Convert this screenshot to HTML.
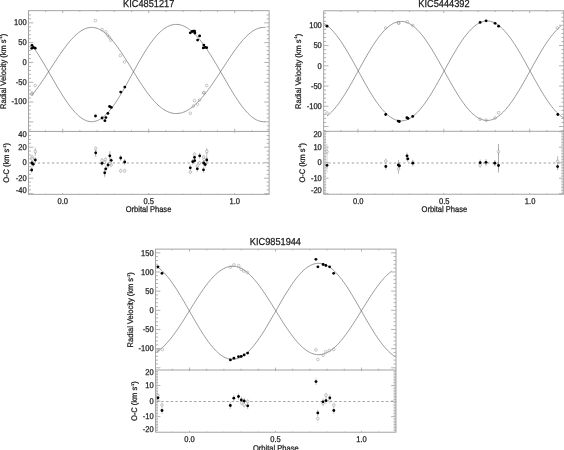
<!DOCTYPE html>
<html><head><meta charset="utf-8"><title>Radial velocity curves</title>
<style>
html,body{margin:0;padding:0;background:#fff;}
body{width:564px;height:450px;overflow:hidden;}
svg{display:block;}
text{font-family:"Liberation Sans",Arial,Helvetica,sans-serif;fill:#1a1a1a;stroke:#1a1a1a;stroke-width:0.25px;text-rendering:geometricPrecision;}
</style></head><body>
<svg width="564" height="450" viewBox="0 0 564 450">
<rect width="564" height="450" fill="#fff"/>
<polyline fill="none" stroke="#555" stroke-width="0.6" points="31.74,95.46 32.91,94.02 34.08,92.53 35.25,91.01 36.42,89.45 37.59,87.85 38.76,86.23 39.93,84.57 41.10,82.89 42.27,81.18 43.44,79.46 44.61,77.71 45.78,75.95 46.94,74.17 48.11,72.38 49.28,70.59 50.45,68.79 51.62,66.99 52.79,65.20 53.96,63.41 55.13,61.62 56.30,59.85 57.47,58.09 58.64,56.35 59.81,54.64 60.98,52.94 62.15,51.28 63.32,49.65 64.49,48.05 65.66,46.49 66.83,44.96 68.00,43.49 69.17,42.06 70.34,40.68 71.51,39.36 72.68,38.09 73.85,36.88 75.02,35.73 76.18,34.65 77.35,33.63 78.52,32.69 79.69,31.81 80.86,31.01 82.03,30.29 83.20,29.64 84.37,29.08 85.54,28.59 86.71,28.19 87.88,27.87 89.05,27.63 90.22,27.48 91.39,27.42 92.56,27.44 93.73,27.54 94.90,27.74 96.07,28.02 97.24,28.39 98.41,28.84 99.58,29.37 100.75,29.99 101.92,30.69 103.09,31.47 104.26,32.34 105.42,33.27 106.59,34.29 107.76,35.37 108.93,36.53 110.10,37.76 111.27,39.05 112.44,40.41 113.61,41.82 114.78,43.29 115.95,44.82 117.12,46.39 118.29,48.02 119.46,49.68 120.63,51.39 121.80,53.13 122.97,54.91 124.14,56.71 125.31,58.54 126.48,60.39 127.65,62.25 128.82,64.13 129.99,66.02 131.16,67.92 132.33,69.81 133.50,71.71 134.66,73.60 135.83,75.48 137.00,77.34 138.17,79.19 139.34,81.02 140.51,82.82 141.68,84.60 142.85,86.35 144.02,88.06 145.19,89.74 146.36,91.37 147.53,92.97 148.70,94.52 149.87,96.02 151.04,97.48 152.21,98.88 153.38,100.22 154.55,101.51 155.72,102.74 156.89,103.91 158.06,105.02 159.23,106.07 160.40,107.05 161.57,107.97 162.74,108.82 163.90,109.60 165.07,110.31 166.24,110.95 167.41,111.52 168.58,112.03 169.75,112.46 170.92,112.82 172.09,113.10 173.26,113.32 174.43,113.46 175.60,113.53 176.77,113.53 177.94,113.46 179.11,113.32 180.28,113.11 181.45,112.83 182.62,112.48 183.79,112.06 184.96,111.57 186.13,111.02 187.30,110.40 188.47,109.72 189.64,108.97 190.81,108.16 191.98,107.29 193.14,106.36 194.31,105.37 195.48,104.33 196.65,103.23 197.82,102.07 198.99,100.86 200.16,99.61 201.33,98.30 202.50,96.95 203.67,95.55 204.84,94.10 206.01,92.62 207.18,91.10 208.35,89.54 209.52,87.95 210.69,86.32 211.86,84.67 213.03,82.99 214.20,81.28 215.37,79.56 216.54,77.81 217.71,76.05 218.88,74.28 220.05,72.49 221.22,70.70 222.38,68.90 223.55,67.10 224.72,65.30 225.89,63.51 227.06,61.73 228.23,59.95 229.40,58.20 230.57,56.46 231.74,54.74 232.91,53.04 234.08,51.38 235.25,49.74 236.42,48.14 237.59,46.58 238.76,45.05 239.93,43.57 241.10,42.14 242.27,40.76 243.44,39.43 244.61,38.16 245.78,36.95 246.95,35.80 248.12,34.71 249.29,33.69 250.46,32.74 251.62,31.86 252.79,31.06 253.96,30.33 255.13,29.68 256.30,29.11 257.47,28.62 258.64,28.21 259.81,27.88 260.98,27.64 262.15,27.49 263.32,27.42 264.49,27.43 265.66,27.54"/>
<polyline fill="none" stroke="#555" stroke-width="0.6" points="31.74,44.83 32.91,46.46 34.08,48.14 35.25,49.86 36.42,51.62 37.59,53.42 38.76,55.26 39.93,57.13 41.10,59.03 42.27,60.96 43.44,62.91 44.61,64.88 45.78,66.88 46.94,68.88 48.11,70.90 49.28,72.93 50.45,74.96 51.62,76.99 52.79,79.02 53.96,81.04 55.13,83.06 56.30,85.06 57.47,87.05 58.64,89.01 59.81,90.95 60.98,92.86 62.15,94.75 63.32,96.59 64.49,98.40 65.66,100.16 66.83,101.88 68.00,103.55 69.17,105.16 70.34,106.72 71.51,108.21 72.68,109.65 73.85,111.01 75.02,112.31 76.18,113.53 77.35,114.68 78.52,115.75 79.69,116.74 80.86,117.64 82.03,118.46 83.20,119.19 84.37,119.83 85.54,120.38 86.71,120.83 87.88,121.20 89.05,121.46 90.22,121.63 91.39,121.71 92.56,121.68 93.73,121.56 94.90,121.34 96.07,121.02 97.24,120.61 98.41,120.10 99.58,119.49 100.75,118.80 101.92,118.00 103.09,117.12 104.26,116.15 105.42,115.09 106.59,113.94 107.76,112.71 108.93,111.40 110.10,110.02 111.27,108.56 112.44,107.03 113.61,105.43 114.78,103.77 115.95,102.04 117.12,100.26 118.29,98.43 119.46,96.55 120.63,94.62 121.80,92.65 122.97,90.65 124.14,88.61 125.31,86.54 126.48,84.45 127.65,82.35 128.82,80.22 129.99,78.09 131.16,75.95 132.33,73.80 133.50,71.66 134.66,69.53 135.83,67.41 137.00,65.30 138.17,63.21 139.34,61.15 140.51,59.11 141.68,57.10 142.85,55.13 144.02,53.19 145.19,51.30 146.36,49.45 147.53,47.64 148.70,45.89 149.87,44.19 151.04,42.55 152.21,40.97 153.38,39.45 154.55,37.99 155.72,36.60 156.89,35.28 158.06,34.02 159.23,32.84 160.40,31.73 161.57,30.70 162.74,29.74 163.90,28.86 165.07,28.05 166.24,27.33 167.41,26.68 168.58,26.11 169.75,25.63 170.92,25.22 172.09,24.90 173.26,24.65 174.43,24.49 175.60,24.41 176.77,24.41 177.94,24.49 179.11,24.65 180.28,24.89 181.45,25.21 182.62,25.60 183.79,26.07 184.96,26.62 186.13,27.25 187.30,27.95 188.47,28.72 189.64,29.56 190.81,30.48 191.98,31.46 193.14,32.51 194.31,33.63 195.48,34.81 196.65,36.05 197.82,37.36 198.99,38.72 200.16,40.14 201.33,41.62 202.50,43.15 203.67,44.73 204.84,46.36 206.01,48.04 207.18,49.76 208.35,51.52 209.52,53.32 210.69,55.15 211.86,57.02 213.03,58.92 214.20,60.84 215.37,62.80 216.54,64.77 217.71,66.76 218.88,68.76 220.05,70.78 221.22,72.81 222.38,74.84 223.55,76.87 224.72,78.90 225.89,80.93 227.06,82.94 228.23,84.94 229.40,86.93 230.57,88.90 231.74,90.84 232.91,92.75 234.08,94.64 235.25,96.48 236.42,98.29 237.59,100.06 238.76,101.78 239.93,103.45 241.10,105.07 242.27,106.63 243.44,108.13 244.61,109.56 245.78,110.93 246.95,112.23 248.12,113.46 249.29,114.61 250.46,115.69 251.62,116.68 252.79,117.59 253.96,118.41 255.13,119.15 256.30,119.79 257.47,120.35 258.64,120.81 259.81,121.18 260.98,121.45 262.15,121.63 263.32,121.70 264.49,121.69 265.66,121.57"/>
<rect x="28.50" y="10.70" width="240.60" height="183.60" fill="none" stroke="#949494" stroke-width="0.85"/>
<line x1="28.50" y1="131.45" x2="269.10" y2="131.45" stroke="#949494" stroke-width="0.85" />
<line x1="45.50" y1="10.70" x2="45.50" y2="11.91" stroke="#a4a4a4" stroke-width="0.85" />
<line x1="45.50" y1="131.45" x2="45.50" y2="130.24" stroke="#a4a4a4" stroke-width="0.85" />
<line x1="45.50" y1="131.45" x2="45.50" y2="132.08" stroke="#a4a4a4" stroke-width="0.85" />
<line x1="45.50" y1="194.30" x2="45.50" y2="193.67" stroke="#a4a4a4" stroke-width="0.85" />
<line x1="62.70" y1="10.70" x2="62.70" y2="13.11" stroke="#a4a4a4" stroke-width="0.85" />
<line x1="62.70" y1="131.45" x2="62.70" y2="129.03" stroke="#a4a4a4" stroke-width="0.85" />
<line x1="62.70" y1="131.45" x2="62.70" y2="132.71" stroke="#a4a4a4" stroke-width="0.85" />
<line x1="62.70" y1="194.30" x2="62.70" y2="193.04" stroke="#a4a4a4" stroke-width="0.85" />
<line x1="79.90" y1="10.70" x2="79.90" y2="11.91" stroke="#a4a4a4" stroke-width="0.85" />
<line x1="79.90" y1="131.45" x2="79.90" y2="130.24" stroke="#a4a4a4" stroke-width="0.85" />
<line x1="79.90" y1="131.45" x2="79.90" y2="132.08" stroke="#a4a4a4" stroke-width="0.85" />
<line x1="79.90" y1="194.30" x2="79.90" y2="193.67" stroke="#a4a4a4" stroke-width="0.85" />
<line x1="97.10" y1="10.70" x2="97.10" y2="11.91" stroke="#a4a4a4" stroke-width="0.85" />
<line x1="97.10" y1="131.45" x2="97.10" y2="130.24" stroke="#a4a4a4" stroke-width="0.85" />
<line x1="97.10" y1="131.45" x2="97.10" y2="132.08" stroke="#a4a4a4" stroke-width="0.85" />
<line x1="97.10" y1="194.30" x2="97.10" y2="193.67" stroke="#a4a4a4" stroke-width="0.85" />
<line x1="114.30" y1="10.70" x2="114.30" y2="11.91" stroke="#a4a4a4" stroke-width="0.85" />
<line x1="114.30" y1="131.45" x2="114.30" y2="130.24" stroke="#a4a4a4" stroke-width="0.85" />
<line x1="114.30" y1="131.45" x2="114.30" y2="132.08" stroke="#a4a4a4" stroke-width="0.85" />
<line x1="114.30" y1="194.30" x2="114.30" y2="193.67" stroke="#a4a4a4" stroke-width="0.85" />
<line x1="131.50" y1="10.70" x2="131.50" y2="11.91" stroke="#a4a4a4" stroke-width="0.85" />
<line x1="131.50" y1="131.45" x2="131.50" y2="130.24" stroke="#a4a4a4" stroke-width="0.85" />
<line x1="131.50" y1="131.45" x2="131.50" y2="132.08" stroke="#a4a4a4" stroke-width="0.85" />
<line x1="131.50" y1="194.30" x2="131.50" y2="193.67" stroke="#a4a4a4" stroke-width="0.85" />
<line x1="148.70" y1="10.70" x2="148.70" y2="13.11" stroke="#a4a4a4" stroke-width="0.85" />
<line x1="148.70" y1="131.45" x2="148.70" y2="129.03" stroke="#a4a4a4" stroke-width="0.85" />
<line x1="148.70" y1="131.45" x2="148.70" y2="132.71" stroke="#a4a4a4" stroke-width="0.85" />
<line x1="148.70" y1="194.30" x2="148.70" y2="193.04" stroke="#a4a4a4" stroke-width="0.85" />
<line x1="165.90" y1="10.70" x2="165.90" y2="11.91" stroke="#a4a4a4" stroke-width="0.85" />
<line x1="165.90" y1="131.45" x2="165.90" y2="130.24" stroke="#a4a4a4" stroke-width="0.85" />
<line x1="165.90" y1="131.45" x2="165.90" y2="132.08" stroke="#a4a4a4" stroke-width="0.85" />
<line x1="165.90" y1="194.30" x2="165.90" y2="193.67" stroke="#a4a4a4" stroke-width="0.85" />
<line x1="183.10" y1="10.70" x2="183.10" y2="11.91" stroke="#a4a4a4" stroke-width="0.85" />
<line x1="183.10" y1="131.45" x2="183.10" y2="130.24" stroke="#a4a4a4" stroke-width="0.85" />
<line x1="183.10" y1="131.45" x2="183.10" y2="132.08" stroke="#a4a4a4" stroke-width="0.85" />
<line x1="183.10" y1="194.30" x2="183.10" y2="193.67" stroke="#a4a4a4" stroke-width="0.85" />
<line x1="200.30" y1="10.70" x2="200.30" y2="11.91" stroke="#a4a4a4" stroke-width="0.85" />
<line x1="200.30" y1="131.45" x2="200.30" y2="130.24" stroke="#a4a4a4" stroke-width="0.85" />
<line x1="200.30" y1="131.45" x2="200.30" y2="132.08" stroke="#a4a4a4" stroke-width="0.85" />
<line x1="200.30" y1="194.30" x2="200.30" y2="193.67" stroke="#a4a4a4" stroke-width="0.85" />
<line x1="217.50" y1="10.70" x2="217.50" y2="11.91" stroke="#a4a4a4" stroke-width="0.85" />
<line x1="217.50" y1="131.45" x2="217.50" y2="130.24" stroke="#a4a4a4" stroke-width="0.85" />
<line x1="217.50" y1="131.45" x2="217.50" y2="132.08" stroke="#a4a4a4" stroke-width="0.85" />
<line x1="217.50" y1="194.30" x2="217.50" y2="193.67" stroke="#a4a4a4" stroke-width="0.85" />
<line x1="234.70" y1="10.70" x2="234.70" y2="13.11" stroke="#a4a4a4" stroke-width="0.85" />
<line x1="234.70" y1="131.45" x2="234.70" y2="129.03" stroke="#a4a4a4" stroke-width="0.85" />
<line x1="234.70" y1="131.45" x2="234.70" y2="132.71" stroke="#a4a4a4" stroke-width="0.85" />
<line x1="234.70" y1="194.30" x2="234.70" y2="193.04" stroke="#a4a4a4" stroke-width="0.85" />
<line x1="251.90" y1="10.70" x2="251.90" y2="11.91" stroke="#a4a4a4" stroke-width="0.85" />
<line x1="251.90" y1="131.45" x2="251.90" y2="130.24" stroke="#a4a4a4" stroke-width="0.85" />
<line x1="251.90" y1="131.45" x2="251.90" y2="132.08" stroke="#a4a4a4" stroke-width="0.85" />
<line x1="251.90" y1="194.30" x2="251.90" y2="193.67" stroke="#a4a4a4" stroke-width="0.85" />
<line x1="28.50" y1="129.77" x2="30.91" y2="129.77" stroke="#a4a4a4" stroke-width="0.85" />
<line x1="269.10" y1="129.77" x2="266.69" y2="129.77" stroke="#a4a4a4" stroke-width="0.85" />
<line x1="28.50" y1="125.81" x2="30.91" y2="125.81" stroke="#a4a4a4" stroke-width="0.85" />
<line x1="269.10" y1="125.81" x2="266.69" y2="125.81" stroke="#a4a4a4" stroke-width="0.85" />
<line x1="28.50" y1="121.85" x2="33.31" y2="121.85" stroke="#a4a4a4" stroke-width="0.85" />
<line x1="269.10" y1="121.85" x2="264.29" y2="121.85" stroke="#a4a4a4" stroke-width="0.85" />
<line x1="28.50" y1="117.89" x2="30.91" y2="117.89" stroke="#a4a4a4" stroke-width="0.85" />
<line x1="269.10" y1="117.89" x2="266.69" y2="117.89" stroke="#a4a4a4" stroke-width="0.85" />
<line x1="28.50" y1="113.93" x2="30.91" y2="113.93" stroke="#a4a4a4" stroke-width="0.85" />
<line x1="269.10" y1="113.93" x2="266.69" y2="113.93" stroke="#a4a4a4" stroke-width="0.85" />
<line x1="28.50" y1="109.97" x2="30.91" y2="109.97" stroke="#a4a4a4" stroke-width="0.85" />
<line x1="269.10" y1="109.97" x2="266.69" y2="109.97" stroke="#a4a4a4" stroke-width="0.85" />
<line x1="28.50" y1="106.01" x2="30.91" y2="106.01" stroke="#a4a4a4" stroke-width="0.85" />
<line x1="269.10" y1="106.01" x2="266.69" y2="106.01" stroke="#a4a4a4" stroke-width="0.85" />
<line x1="28.50" y1="102.05" x2="33.31" y2="102.05" stroke="#a4a4a4" stroke-width="0.85" />
<line x1="269.10" y1="102.05" x2="264.29" y2="102.05" stroke="#a4a4a4" stroke-width="0.85" />
<line x1="28.50" y1="98.09" x2="30.91" y2="98.09" stroke="#a4a4a4" stroke-width="0.85" />
<line x1="269.10" y1="98.09" x2="266.69" y2="98.09" stroke="#a4a4a4" stroke-width="0.85" />
<line x1="28.50" y1="94.13" x2="30.91" y2="94.13" stroke="#a4a4a4" stroke-width="0.85" />
<line x1="269.10" y1="94.13" x2="266.69" y2="94.13" stroke="#a4a4a4" stroke-width="0.85" />
<line x1="28.50" y1="90.17" x2="30.91" y2="90.17" stroke="#a4a4a4" stroke-width="0.85" />
<line x1="269.10" y1="90.17" x2="266.69" y2="90.17" stroke="#a4a4a4" stroke-width="0.85" />
<line x1="28.50" y1="86.21" x2="30.91" y2="86.21" stroke="#a4a4a4" stroke-width="0.85" />
<line x1="269.10" y1="86.21" x2="266.69" y2="86.21" stroke="#a4a4a4" stroke-width="0.85" />
<line x1="28.50" y1="82.25" x2="33.31" y2="82.25" stroke="#a4a4a4" stroke-width="0.85" />
<line x1="269.10" y1="82.25" x2="264.29" y2="82.25" stroke="#a4a4a4" stroke-width="0.85" />
<line x1="28.50" y1="78.29" x2="30.91" y2="78.29" stroke="#a4a4a4" stroke-width="0.85" />
<line x1="269.10" y1="78.29" x2="266.69" y2="78.29" stroke="#a4a4a4" stroke-width="0.85" />
<line x1="28.50" y1="74.33" x2="30.91" y2="74.33" stroke="#a4a4a4" stroke-width="0.85" />
<line x1="269.10" y1="74.33" x2="266.69" y2="74.33" stroke="#a4a4a4" stroke-width="0.85" />
<line x1="28.50" y1="70.37" x2="30.91" y2="70.37" stroke="#a4a4a4" stroke-width="0.85" />
<line x1="269.10" y1="70.37" x2="266.69" y2="70.37" stroke="#a4a4a4" stroke-width="0.85" />
<line x1="28.50" y1="66.41" x2="30.91" y2="66.41" stroke="#a4a4a4" stroke-width="0.85" />
<line x1="269.10" y1="66.41" x2="266.69" y2="66.41" stroke="#a4a4a4" stroke-width="0.85" />
<line x1="28.50" y1="62.45" x2="33.31" y2="62.45" stroke="#a4a4a4" stroke-width="0.85" />
<line x1="269.10" y1="62.45" x2="264.29" y2="62.45" stroke="#a4a4a4" stroke-width="0.85" />
<line x1="28.50" y1="58.49" x2="30.91" y2="58.49" stroke="#a4a4a4" stroke-width="0.85" />
<line x1="269.10" y1="58.49" x2="266.69" y2="58.49" stroke="#a4a4a4" stroke-width="0.85" />
<line x1="28.50" y1="54.53" x2="30.91" y2="54.53" stroke="#a4a4a4" stroke-width="0.85" />
<line x1="269.10" y1="54.53" x2="266.69" y2="54.53" stroke="#a4a4a4" stroke-width="0.85" />
<line x1="28.50" y1="50.57" x2="30.91" y2="50.57" stroke="#a4a4a4" stroke-width="0.85" />
<line x1="269.10" y1="50.57" x2="266.69" y2="50.57" stroke="#a4a4a4" stroke-width="0.85" />
<line x1="28.50" y1="46.61" x2="30.91" y2="46.61" stroke="#a4a4a4" stroke-width="0.85" />
<line x1="269.10" y1="46.61" x2="266.69" y2="46.61" stroke="#a4a4a4" stroke-width="0.85" />
<line x1="28.50" y1="42.65" x2="33.31" y2="42.65" stroke="#a4a4a4" stroke-width="0.85" />
<line x1="269.10" y1="42.65" x2="264.29" y2="42.65" stroke="#a4a4a4" stroke-width="0.85" />
<line x1="28.50" y1="38.69" x2="30.91" y2="38.69" stroke="#a4a4a4" stroke-width="0.85" />
<line x1="269.10" y1="38.69" x2="266.69" y2="38.69" stroke="#a4a4a4" stroke-width="0.85" />
<line x1="28.50" y1="34.73" x2="30.91" y2="34.73" stroke="#a4a4a4" stroke-width="0.85" />
<line x1="269.10" y1="34.73" x2="266.69" y2="34.73" stroke="#a4a4a4" stroke-width="0.85" />
<line x1="28.50" y1="30.77" x2="30.91" y2="30.77" stroke="#a4a4a4" stroke-width="0.85" />
<line x1="269.10" y1="30.77" x2="266.69" y2="30.77" stroke="#a4a4a4" stroke-width="0.85" />
<line x1="28.50" y1="26.81" x2="30.91" y2="26.81" stroke="#a4a4a4" stroke-width="0.85" />
<line x1="269.10" y1="26.81" x2="266.69" y2="26.81" stroke="#a4a4a4" stroke-width="0.85" />
<line x1="28.50" y1="22.85" x2="33.31" y2="22.85" stroke="#a4a4a4" stroke-width="0.85" />
<line x1="269.10" y1="22.85" x2="264.29" y2="22.85" stroke="#a4a4a4" stroke-width="0.85" />
<line x1="28.50" y1="18.89" x2="30.91" y2="18.89" stroke="#a4a4a4" stroke-width="0.85" />
<line x1="269.10" y1="18.89" x2="266.69" y2="18.89" stroke="#a4a4a4" stroke-width="0.85" />
<line x1="28.50" y1="14.93" x2="30.91" y2="14.93" stroke="#a4a4a4" stroke-width="0.85" />
<line x1="269.10" y1="14.93" x2="266.69" y2="14.93" stroke="#a4a4a4" stroke-width="0.85" />
<line x1="28.50" y1="193.70" x2="33.31" y2="193.70" stroke="#a4a4a4" stroke-width="0.85" />
<line x1="269.10" y1="193.70" x2="264.29" y2="193.70" stroke="#a4a4a4" stroke-width="0.85" />
<line x1="28.50" y1="189.82" x2="30.91" y2="189.82" stroke="#a4a4a4" stroke-width="0.85" />
<line x1="269.10" y1="189.82" x2="266.69" y2="189.82" stroke="#a4a4a4" stroke-width="0.85" />
<line x1="28.50" y1="185.95" x2="30.91" y2="185.95" stroke="#a4a4a4" stroke-width="0.85" />
<line x1="269.10" y1="185.95" x2="266.69" y2="185.95" stroke="#a4a4a4" stroke-width="0.85" />
<line x1="28.50" y1="182.07" x2="30.91" y2="182.07" stroke="#a4a4a4" stroke-width="0.85" />
<line x1="269.10" y1="182.07" x2="266.69" y2="182.07" stroke="#a4a4a4" stroke-width="0.85" />
<line x1="28.50" y1="178.20" x2="33.31" y2="178.20" stroke="#a4a4a4" stroke-width="0.85" />
<line x1="269.10" y1="178.20" x2="264.29" y2="178.20" stroke="#a4a4a4" stroke-width="0.85" />
<line x1="28.50" y1="174.32" x2="30.91" y2="174.32" stroke="#a4a4a4" stroke-width="0.85" />
<line x1="269.10" y1="174.32" x2="266.69" y2="174.32" stroke="#a4a4a4" stroke-width="0.85" />
<line x1="28.50" y1="170.45" x2="30.91" y2="170.45" stroke="#a4a4a4" stroke-width="0.85" />
<line x1="269.10" y1="170.45" x2="266.69" y2="170.45" stroke="#a4a4a4" stroke-width="0.85" />
<line x1="28.50" y1="166.57" x2="30.91" y2="166.57" stroke="#a4a4a4" stroke-width="0.85" />
<line x1="269.10" y1="166.57" x2="266.69" y2="166.57" stroke="#a4a4a4" stroke-width="0.85" />
<line x1="28.50" y1="162.70" x2="33.31" y2="162.70" stroke="#a4a4a4" stroke-width="0.85" />
<line x1="269.10" y1="162.70" x2="264.29" y2="162.70" stroke="#a4a4a4" stroke-width="0.85" />
<line x1="28.50" y1="158.82" x2="30.91" y2="158.82" stroke="#a4a4a4" stroke-width="0.85" />
<line x1="269.10" y1="158.82" x2="266.69" y2="158.82" stroke="#a4a4a4" stroke-width="0.85" />
<line x1="28.50" y1="154.95" x2="30.91" y2="154.95" stroke="#a4a4a4" stroke-width="0.85" />
<line x1="269.10" y1="154.95" x2="266.69" y2="154.95" stroke="#a4a4a4" stroke-width="0.85" />
<line x1="28.50" y1="151.07" x2="30.91" y2="151.07" stroke="#a4a4a4" stroke-width="0.85" />
<line x1="269.10" y1="151.07" x2="266.69" y2="151.07" stroke="#a4a4a4" stroke-width="0.85" />
<line x1="28.50" y1="147.20" x2="33.31" y2="147.20" stroke="#a4a4a4" stroke-width="0.85" />
<line x1="269.10" y1="147.20" x2="264.29" y2="147.20" stroke="#a4a4a4" stroke-width="0.85" />
<line x1="28.50" y1="143.32" x2="30.91" y2="143.32" stroke="#a4a4a4" stroke-width="0.85" />
<line x1="269.10" y1="143.32" x2="266.69" y2="143.32" stroke="#a4a4a4" stroke-width="0.85" />
<line x1="28.50" y1="139.45" x2="30.91" y2="139.45" stroke="#a4a4a4" stroke-width="0.85" />
<line x1="269.10" y1="139.45" x2="266.69" y2="139.45" stroke="#a4a4a4" stroke-width="0.85" />
<line x1="28.50" y1="135.57" x2="30.91" y2="135.57" stroke="#a4a4a4" stroke-width="0.85" />
<line x1="269.10" y1="135.57" x2="266.69" y2="135.57" stroke="#a4a4a4" stroke-width="0.85" />
<line x1="28.50" y1="163.00" x2="269.10" y2="163.00" stroke="#bdbdbd" stroke-width="1.6" stroke-dasharray="2.2 2.48" stroke-dashoffset="0"/>
<text transform="translate(26.60,25.25) scale(0.9,1)" text-anchor="end" font-size="8.4">100</text>
<text transform="translate(26.60,45.05) scale(0.9,1)" text-anchor="end" font-size="8.4">50</text>
<text transform="translate(26.60,64.85) scale(0.9,1)" text-anchor="end" font-size="8.4">0</text>
<text transform="translate(26.60,84.65) scale(0.9,1)" text-anchor="end" font-size="8.4">-50</text>
<text transform="translate(26.60,104.45) scale(0.9,1)" text-anchor="end" font-size="8.4">-100</text>
<text transform="translate(26.60,193.45) scale(0.9,1)" text-anchor="end" font-size="8.4">-40</text>
<text transform="translate(26.60,180.95) scale(0.9,1)" text-anchor="end" font-size="8.4">-20</text>
<text transform="translate(26.60,165.45) scale(0.9,1)" text-anchor="end" font-size="8.4">0</text>
<text transform="translate(26.60,149.95) scale(0.9,1)" text-anchor="end" font-size="8.4">20</text>
<text transform="translate(26.60,137.05) scale(0.9,1)" text-anchor="end" font-size="8.4">40</text>
<text transform="translate(62.70,203.70) scale(0.9,1)" text-anchor="middle" font-size="8.4">0.0</text>
<text transform="translate(148.70,203.70) scale(0.9,1)" text-anchor="middle" font-size="8.4">0.5</text>
<text transform="translate(234.70,203.70) scale(0.9,1)" text-anchor="middle" font-size="8.4">1.0</text>
<text transform="translate(148.50,211.85) scale(0.9,1)" text-anchor="middle" font-size="8.4">Orbital Phase</text>
<text transform="translate(148.70,7.00) scale(0.912,1)" text-anchor="middle" font-size="10.1">KIC4851217</text>
<text transform="translate(5.80,71.37) rotate(-90) scale(0.925,1)" text-anchor="middle" font-size="8.1">Radial Velocity (km s<tspan font-size="3.8" dy="-3.6">-1</tspan><tspan dy="3.6">)</tspan></text>
<text transform="translate(9.20,162.88) rotate(-90) scale(0.925,1)" text-anchor="middle" font-size="8.1">O-C (km s<tspan font-size="3.8" dy="-3.6">-1</tspan><tspan dy="3.6">)</tspan></text>
<line x1="35.30" y1="157.00" x2="35.30" y2="163.00" stroke="#999" stroke-width="0.6" />
<line x1="31.90" y1="160.00" x2="31.90" y2="166.00" stroke="#999" stroke-width="0.6" />
<line x1="33.20" y1="161.20" x2="33.20" y2="167.20" stroke="#999" stroke-width="0.6" />
<line x1="31.70" y1="167.00" x2="31.70" y2="173.00" stroke="#999" stroke-width="0.6" />
<line x1="95.70" y1="149.80" x2="95.70" y2="155.80" stroke="#999" stroke-width="0.6" />
<line x1="102.00" y1="160.30" x2="102.00" y2="166.30" stroke="#999" stroke-width="0.6" />
<line x1="109.80" y1="152.80" x2="109.80" y2="158.80" stroke="#999" stroke-width="0.6" />
<line x1="111.20" y1="157.30" x2="111.20" y2="163.30" stroke="#999" stroke-width="0.6" />
<line x1="108.00" y1="162.00" x2="108.00" y2="168.00" stroke="#999" stroke-width="0.6" />
<line x1="105.80" y1="165.80" x2="105.80" y2="171.80" stroke="#999" stroke-width="0.6" />
<line x1="104.70" y1="169.80" x2="104.70" y2="175.80" stroke="#999" stroke-width="0.6" />
<line x1="120.70" y1="155.00" x2="120.70" y2="161.00" stroke="#999" stroke-width="0.6" />
<line x1="124.70" y1="159.00" x2="124.70" y2="165.00" stroke="#999" stroke-width="0.6" />
<line x1="190.30" y1="164.80" x2="190.30" y2="170.80" stroke="#999" stroke-width="0.6" />
<line x1="192.70" y1="158.70" x2="192.70" y2="164.70" stroke="#999" stroke-width="0.6" />
<line x1="194.50" y1="154.30" x2="194.50" y2="160.30" stroke="#999" stroke-width="0.6" />
<line x1="194.70" y1="157.70" x2="194.70" y2="163.70" stroke="#999" stroke-width="0.6" />
<line x1="197.30" y1="165.80" x2="197.30" y2="171.80" stroke="#999" stroke-width="0.6" />
<line x1="199.70" y1="152.80" x2="199.70" y2="158.80" stroke="#999" stroke-width="0.6" />
<line x1="203.50" y1="166.80" x2="203.50" y2="172.80" stroke="#999" stroke-width="0.6" />
<line x1="203.70" y1="160.00" x2="203.70" y2="166.00" stroke="#999" stroke-width="0.6" />
<line x1="205.20" y1="161.50" x2="205.20" y2="167.50" stroke="#999" stroke-width="0.6" />
<line x1="206.80" y1="157.00" x2="206.80" y2="163.00" stroke="#999" stroke-width="0.6" />
<line x1="35.30" y1="149.20" x2="35.30" y2="154.00" stroke="#c4c4c4" stroke-width="0.6" />
<line x1="32.10" y1="154.60" x2="32.10" y2="159.40" stroke="#c4c4c4" stroke-width="0.6" />
<line x1="32.30" y1="156.60" x2="32.30" y2="161.40" stroke="#c4c4c4" stroke-width="0.6" />
<line x1="95.70" y1="146.10" x2="95.70" y2="150.90" stroke="#c4c4c4" stroke-width="0.6" />
<line x1="102.00" y1="157.90" x2="102.00" y2="162.70" stroke="#c4c4c4" stroke-width="0.6" />
<line x1="105.50" y1="157.10" x2="105.50" y2="161.90" stroke="#c4c4c4" stroke-width="0.6" />
<line x1="104.50" y1="159.80" x2="104.50" y2="164.60" stroke="#c4c4c4" stroke-width="0.6" />
<line x1="111.00" y1="162.60" x2="111.00" y2="167.40" stroke="#c4c4c4" stroke-width="0.6" />
<line x1="109.50" y1="161.10" x2="109.50" y2="165.90" stroke="#c4c4c4" stroke-width="0.6" />
<line x1="120.70" y1="168.40" x2="120.70" y2="173.20" stroke="#c4c4c4" stroke-width="0.6" />
<line x1="124.70" y1="168.40" x2="124.70" y2="173.20" stroke="#c4c4c4" stroke-width="0.6" />
<line x1="190.30" y1="169.60" x2="190.30" y2="174.40" stroke="#c4c4c4" stroke-width="0.6" />
<line x1="194.50" y1="151.90" x2="194.50" y2="156.70" stroke="#c4c4c4" stroke-width="0.6" />
<line x1="199.50" y1="160.60" x2="199.50" y2="165.40" stroke="#c4c4c4" stroke-width="0.6" />
<line x1="197.30" y1="163.60" x2="197.30" y2="168.40" stroke="#c4c4c4" stroke-width="0.6" />
<line x1="203.70" y1="154.60" x2="203.70" y2="159.40" stroke="#c4c4c4" stroke-width="0.6" />
<line x1="204.00" y1="157.10" x2="204.00" y2="161.90" stroke="#c4c4c4" stroke-width="0.6" />
<line x1="206.80" y1="149.10" x2="206.80" y2="153.90" stroke="#c4c4c4" stroke-width="0.6" />
<line x1="35.30" y1="147.50" x2="35.30" y2="156.00" stroke="#999" stroke-width="0.6" />
<line x1="206.80" y1="148.00" x2="206.80" y2="160.00" stroke="#999" stroke-width="0.6" />
<line x1="104.70" y1="168.00" x2="104.70" y2="177.30" stroke="#999" stroke-width="0.6" />
<line x1="109.80" y1="151.00" x2="109.80" y2="160.50" stroke="#999" stroke-width="0.6" />
<line x1="95.70" y1="149.00" x2="95.70" y2="157.00" stroke="#999" stroke-width="0.6" />
<circle cx="35.2" cy="85.5" r="1.35" fill="none" stroke="#8f8f8f" stroke-width="0.5"/>
<circle cx="32.1" cy="93.0" r="1.35" fill="none" stroke="#8f8f8f" stroke-width="0.5"/>
<circle cx="32.0" cy="94.2" r="1.35" fill="none" stroke="#8f8f8f" stroke-width="0.5"/>
<circle cx="95.4" cy="20.5" r="1.35" fill="none" stroke="#8f8f8f" stroke-width="0.5"/>
<circle cx="102.1" cy="29.5" r="1.35" fill="none" stroke="#8f8f8f" stroke-width="0.5"/>
<circle cx="105.7" cy="31.8" r="1.35" fill="none" stroke="#8f8f8f" stroke-width="0.5"/>
<circle cx="107.4" cy="34.9" r="1.35" fill="none" stroke="#8f8f8f" stroke-width="0.5"/>
<circle cx="109.2" cy="37.1" r="1.35" fill="none" stroke="#8f8f8f" stroke-width="0.5"/>
<circle cx="110.8" cy="40.1" r="1.35" fill="none" stroke="#8f8f8f" stroke-width="0.5"/>
<circle cx="120.3" cy="55.6" r="1.35" fill="none" stroke="#8f8f8f" stroke-width="0.5"/>
<circle cx="124.5" cy="61.8" r="1.35" fill="none" stroke="#8f8f8f" stroke-width="0.5"/>
<circle cx="206.7" cy="85.5" r="1.35" fill="none" stroke="#8f8f8f" stroke-width="0.5"/>
<circle cx="203.6" cy="93.0" r="1.35" fill="none" stroke="#8f8f8f" stroke-width="0.5"/>
<circle cx="204.2" cy="92.6" r="1.35" fill="none" stroke="#8f8f8f" stroke-width="0.5"/>
<circle cx="199.6" cy="100.1" r="1.35" fill="none" stroke="#8f8f8f" stroke-width="0.5"/>
<circle cx="194.5" cy="100.7" r="1.35" fill="none" stroke="#8f8f8f" stroke-width="0.5"/>
<circle cx="197.4" cy="104.2" r="1.35" fill="none" stroke="#8f8f8f" stroke-width="0.5"/>
<circle cx="193.4" cy="106.1" r="1.35" fill="none" stroke="#8f8f8f" stroke-width="0.5"/>
<circle cx="190.3" cy="113.3" r="1.35" fill="none" stroke="#8f8f8f" stroke-width="0.5"/>
<circle cx="35.3" cy="151.6" r="1.35" fill="#fff" fill-opacity="0.75" stroke="#8f8f8f" stroke-width="0.5"/>
<circle cx="32.1" cy="157.0" r="1.35" fill="#fff" fill-opacity="0.75" stroke="#8f8f8f" stroke-width="0.5"/>
<circle cx="32.3" cy="159.0" r="1.35" fill="#fff" fill-opacity="0.75" stroke="#8f8f8f" stroke-width="0.5"/>
<circle cx="95.7" cy="148.5" r="1.35" fill="#fff" fill-opacity="0.75" stroke="#8f8f8f" stroke-width="0.5"/>
<circle cx="102.0" cy="160.3" r="1.35" fill="#fff" fill-opacity="0.75" stroke="#8f8f8f" stroke-width="0.5"/>
<circle cx="105.5" cy="159.5" r="1.35" fill="#fff" fill-opacity="0.75" stroke="#8f8f8f" stroke-width="0.5"/>
<circle cx="104.5" cy="162.2" r="1.35" fill="#fff" fill-opacity="0.75" stroke="#8f8f8f" stroke-width="0.5"/>
<circle cx="111.0" cy="165.0" r="1.35" fill="#fff" fill-opacity="0.75" stroke="#8f8f8f" stroke-width="0.5"/>
<circle cx="109.5" cy="163.5" r="1.35" fill="#fff" fill-opacity="0.75" stroke="#8f8f8f" stroke-width="0.5"/>
<circle cx="120.7" cy="170.8" r="1.35" fill="#fff" fill-opacity="0.75" stroke="#8f8f8f" stroke-width="0.5"/>
<circle cx="124.7" cy="170.8" r="1.35" fill="#fff" fill-opacity="0.75" stroke="#8f8f8f" stroke-width="0.5"/>
<circle cx="190.3" cy="172.0" r="1.35" fill="#fff" fill-opacity="0.75" stroke="#8f8f8f" stroke-width="0.5"/>
<circle cx="194.5" cy="154.3" r="1.35" fill="#fff" fill-opacity="0.75" stroke="#8f8f8f" stroke-width="0.5"/>
<circle cx="199.5" cy="163.0" r="1.35" fill="#fff" fill-opacity="0.75" stroke="#8f8f8f" stroke-width="0.5"/>
<circle cx="197.3" cy="166.0" r="1.35" fill="#fff" fill-opacity="0.75" stroke="#8f8f8f" stroke-width="0.5"/>
<circle cx="203.7" cy="157.0" r="1.35" fill="#fff" fill-opacity="0.75" stroke="#8f8f8f" stroke-width="0.5"/>
<circle cx="204.0" cy="159.5" r="1.35" fill="#fff" fill-opacity="0.75" stroke="#8f8f8f" stroke-width="0.5"/>
<circle cx="206.8" cy="151.5" r="1.35" fill="#fff" fill-opacity="0.75" stroke="#8f8f8f" stroke-width="0.5"/>
<circle cx="32.0" cy="45.3" r="1.42" fill="#000"/>
<circle cx="31.8" cy="48.3" r="1.42" fill="#000"/>
<circle cx="33.4" cy="47.4" r="1.42" fill="#000"/>
<circle cx="35.2" cy="48.2" r="1.42" fill="#000"/>
<circle cx="95.5" cy="116.0" r="1.42" fill="#000"/>
<circle cx="102.1" cy="118.0" r="1.42" fill="#000"/>
<circle cx="105.9" cy="117.6" r="1.42" fill="#000"/>
<circle cx="104.9" cy="120.7" r="1.42" fill="#000"/>
<circle cx="107.9" cy="113.4" r="1.42" fill="#000"/>
<circle cx="109.6" cy="106.5" r="1.42" fill="#000"/>
<circle cx="111.3" cy="107.4" r="1.42" fill="#000"/>
<circle cx="120.7" cy="92.1" r="1.42" fill="#000"/>
<circle cx="124.8" cy="87.1" r="1.42" fill="#000"/>
<circle cx="190.3" cy="32.8" r="1.42" fill="#000"/>
<circle cx="192.1" cy="31.5" r="1.42" fill="#000"/>
<circle cx="193.4" cy="31.1" r="1.42" fill="#000"/>
<circle cx="194.6" cy="31.1" r="1.42" fill="#000"/>
<circle cx="194.9" cy="33.0" r="1.42" fill="#000"/>
<circle cx="199.6" cy="35.9" r="1.42" fill="#000"/>
<circle cx="197.6" cy="40.1" r="1.42" fill="#000"/>
<circle cx="203.8" cy="45.1" r="1.42" fill="#000"/>
<circle cx="203.3" cy="47.9" r="1.42" fill="#000"/>
<circle cx="205.1" cy="47.3" r="1.42" fill="#000"/>
<circle cx="206.7" cy="47.7" r="1.42" fill="#000"/>
<circle cx="35.3" cy="160.0" r="1.42" fill="#000"/>
<circle cx="31.9" cy="163.0" r="1.42" fill="#000"/>
<circle cx="33.2" cy="164.2" r="1.42" fill="#000"/>
<circle cx="31.7" cy="170.0" r="1.42" fill="#000"/>
<circle cx="95.7" cy="152.8" r="1.42" fill="#000"/>
<circle cx="102.0" cy="163.3" r="1.42" fill="#000"/>
<circle cx="109.8" cy="155.8" r="1.42" fill="#000"/>
<circle cx="111.2" cy="160.3" r="1.42" fill="#000"/>
<circle cx="108.0" cy="165.0" r="1.42" fill="#000"/>
<circle cx="105.8" cy="168.8" r="1.42" fill="#000"/>
<circle cx="104.7" cy="172.8" r="1.42" fill="#000"/>
<circle cx="120.7" cy="158.0" r="1.42" fill="#000"/>
<circle cx="124.7" cy="162.0" r="1.42" fill="#000"/>
<circle cx="190.3" cy="167.8" r="1.42" fill="#000"/>
<circle cx="192.7" cy="161.7" r="1.42" fill="#000"/>
<circle cx="194.5" cy="157.3" r="1.42" fill="#000"/>
<circle cx="194.7" cy="160.7" r="1.42" fill="#000"/>
<circle cx="197.3" cy="168.8" r="1.42" fill="#000"/>
<circle cx="199.7" cy="155.8" r="1.42" fill="#000"/>
<circle cx="203.5" cy="169.8" r="1.42" fill="#000"/>
<circle cx="203.7" cy="163.0" r="1.42" fill="#000"/>
<circle cx="205.2" cy="164.5" r="1.42" fill="#000"/>
<circle cx="206.8" cy="160.0" r="1.42" fill="#000"/>
<polyline fill="none" stroke="#555" stroke-width="0.6" points="326.98,116.02 328.14,115.10 329.31,114.11 330.48,113.03 331.65,111.88 332.82,110.65 333.99,109.35 335.15,107.97 336.32,106.54 337.49,105.03 338.66,103.47 339.83,101.84 340.99,100.16 342.16,98.42 343.33,96.64 344.50,94.81 345.67,92.93 346.84,91.01 348.00,89.06 349.17,87.08 350.34,85.06 351.51,83.02 352.68,80.96 353.85,78.88 355.01,76.78 356.18,74.67 357.35,72.56 358.52,70.45 359.69,68.33 360.85,66.22 362.02,64.12 363.19,62.03 364.36,59.96 365.53,57.90 366.70,55.87 367.86,53.87 369.03,51.90 370.20,49.97 371.37,48.07 372.54,46.21 373.71,44.40 374.87,42.64 376.04,40.93 377.21,39.28 378.38,37.68 379.55,36.14 380.72,34.67 381.88,33.26 383.05,31.92 384.22,30.65 385.39,29.46 386.56,28.34 387.72,27.30 388.89,26.34 390.06,25.46 391.23,24.66 392.40,23.95 393.57,23.33 394.73,22.79 395.90,22.34 397.07,21.97 398.24,21.70 399.41,21.52 400.58,21.42 401.74,21.42 402.91,21.51 404.08,21.69 405.25,21.96 406.42,22.31 407.58,22.76 408.75,23.29 409.92,23.91 411.09,24.62 412.26,25.41 413.43,26.29 414.59,27.24 415.76,28.28 416.93,29.39 418.10,30.58 419.27,31.84 420.44,33.18 421.60,34.58 422.77,36.05 423.94,37.59 425.11,39.18 426.28,40.83 427.44,42.54 428.61,44.30 429.78,46.11 430.95,47.96 432.12,49.85 433.29,51.79 434.45,53.76 435.62,55.76 436.79,57.78 437.96,59.84 439.13,61.91 440.30,64.00 441.46,66.10 442.63,68.21 443.80,70.32 444.97,72.44 446.14,74.55 447.30,76.66 448.47,78.75 449.64,80.84 450.81,82.90 451.98,84.94 453.15,86.96 454.31,88.95 455.48,90.90 456.65,92.82 457.82,94.70 458.99,96.53 460.16,98.32 461.32,100.06 462.49,101.74 463.66,103.37 464.83,104.94 466.00,106.45 467.16,107.89 468.33,109.27 469.50,110.57 470.67,111.80 471.84,112.96 473.01,114.05 474.17,115.05 475.34,115.97 476.51,116.81 477.68,117.57 478.85,118.24 480.02,118.82 481.18,119.32 482.35,119.73 483.52,120.05 484.69,120.28 485.86,120.42 487.02,120.47 488.19,120.43 489.36,120.30 490.53,120.08 491.70,119.77 492.87,119.38 494.03,118.89 495.20,118.31 496.37,117.65 497.54,116.90 498.71,116.07 499.88,115.16 501.04,114.17 502.21,113.09 503.38,111.94 504.55,110.72 505.72,109.42 506.88,108.06 508.05,106.62 509.22,105.12 510.39,103.56 511.56,101.94 512.73,100.26 513.89,98.53 515.06,96.74 516.23,94.91 517.40,93.04 518.57,91.13 519.74,89.18 520.90,87.19 522.07,85.18 523.24,83.14 524.41,81.08 525.58,79.00 526.75,76.90 527.91,74.80 529.08,72.69 530.25,70.57 531.42,68.45 532.59,66.34 533.75,64.24 534.92,62.15 536.09,60.08 537.26,58.02 538.43,55.99 539.60,53.99 540.76,52.02 541.93,50.08 543.10,48.18 544.27,46.32 545.44,44.51 546.61,42.74 547.77,41.03 548.94,39.37 550.11,37.77 551.28,36.23 552.45,34.75 553.61,33.34 554.78,32.00 555.95,30.73 557.12,29.53 558.29,28.41 559.46,27.36 560.62,26.39"/>
<polyline fill="none" stroke="#555" stroke-width="0.6" points="323.54,23.26 324.74,23.96 325.95,24.75 327.15,25.63 328.35,26.59 329.55,27.65 330.76,28.78 331.96,30.00 333.16,31.29 334.36,32.67 335.57,34.11 336.77,35.63 337.97,37.22 339.17,38.87 340.38,40.59 341.58,42.36 342.78,44.19 343.98,46.07 345.19,47.99 346.39,49.97 347.59,51.98 348.79,54.03 350.00,56.11 351.20,58.22 352.40,60.36 353.60,62.51 354.81,64.68 356.01,66.87 357.21,69.06 358.42,71.26 359.62,73.45 360.82,75.64 362.02,77.82 363.23,79.99 364.43,82.14 365.63,84.27 366.83,86.37 368.04,88.45 369.24,90.49 370.44,92.49 371.64,94.45 372.85,96.36 374.05,98.23 375.25,100.04 376.45,101.80 377.66,103.49 378.86,105.13 380.06,106.69 381.26,108.19 382.47,109.62 383.67,110.97 384.87,112.25 386.08,113.44 387.28,114.55 388.48,115.58 389.68,116.52 390.89,117.37 392.09,118.14 393.29,118.81 394.49,119.39 395.70,119.87 396.90,120.27 398.10,120.56 399.30,120.76 400.51,120.86 401.71,120.87 402.91,120.78 404.11,120.60 405.32,120.31 406.52,119.94 407.72,119.46 408.92,118.90 410.13,118.24 411.33,117.49 412.53,116.65 413.74,115.72 414.94,114.70 416.14,113.60 417.34,112.42 418.55,111.16 419.75,109.82 420.95,108.40 422.15,106.91 423.36,105.36 424.56,103.73 425.76,102.04 426.96,100.30 428.17,98.49 429.37,96.63 430.57,94.73 431.77,92.77 432.98,90.78 434.18,88.74 435.38,86.67 436.58,84.57 437.79,82.45 438.99,80.30 440.19,78.13 441.39,75.96 442.60,73.77 443.80,71.57 445.00,69.37 446.21,67.18 447.41,65.00 448.61,62.82 449.81,60.66 451.02,58.52 452.22,56.41 453.42,54.32 454.62,52.27 455.83,50.25 457.03,48.27 458.23,46.34 459.43,44.45 460.64,42.62 461.84,40.84 463.04,39.11 464.24,37.45 465.45,35.86 466.65,34.33 467.85,32.87 469.05,31.49 470.26,30.18 471.46,28.95 472.66,27.80 473.87,26.74 475.07,25.76 476.27,24.87 477.47,24.07 478.68,23.36 479.88,22.74 481.08,22.21 482.28,21.78 483.49,21.44 484.69,21.20 485.89,21.06 487.09,21.01 488.30,21.06 489.50,21.20 490.70,21.44 491.90,21.78 493.11,22.21 494.31,22.74 495.51,23.36 496.71,24.07 497.92,24.87 499.12,25.76 500.32,26.74 501.52,27.80 502.73,28.95 503.93,30.18 505.13,31.49 506.34,32.87 507.54,34.33 508.74,35.86 509.94,37.45 511.15,39.11 512.35,40.84 513.55,42.62 514.75,44.45 515.96,46.34 517.16,48.27 518.36,50.25 519.56,52.27 520.77,54.32 521.97,56.41 523.17,58.52 524.37,60.66 525.58,62.82 526.78,65.00 527.98,67.18 529.18,69.37 530.39,71.57 531.59,73.77 532.79,75.96 534.00,78.13 535.20,80.30 536.40,82.45 537.60,84.57 538.81,86.67 540.01,88.74 541.21,90.78 542.41,92.77 543.62,94.73 544.82,96.63 546.02,98.49 547.22,100.30 548.43,102.04 549.63,103.73 550.83,105.36 552.03,106.91 553.24,108.40 554.44,109.82 555.64,111.16 556.84,112.42 558.05,113.60 559.25,114.70 560.45,115.72 561.65,116.65 562.86,117.49 564.06,118.24"/>
<rect x="323.70" y="10.80" width="240.10" height="183.40" fill="none" stroke="#949494" stroke-width="0.85"/>
<line x1="323.70" y1="131.30" x2="563.80" y2="131.30" stroke="#949494" stroke-width="0.85" />
<line x1="340.72" y1="10.80" x2="340.72" y2="12.01" stroke="#a4a4a4" stroke-width="0.85" />
<line x1="340.72" y1="131.30" x2="340.72" y2="130.09" stroke="#a4a4a4" stroke-width="0.85" />
<line x1="340.72" y1="131.30" x2="340.72" y2="131.93" stroke="#a4a4a4" stroke-width="0.85" />
<line x1="340.72" y1="194.20" x2="340.72" y2="193.57" stroke="#a4a4a4" stroke-width="0.85" />
<line x1="357.90" y1="10.80" x2="357.90" y2="13.21" stroke="#a4a4a4" stroke-width="0.85" />
<line x1="357.90" y1="131.30" x2="357.90" y2="128.89" stroke="#a4a4a4" stroke-width="0.85" />
<line x1="357.90" y1="131.30" x2="357.90" y2="132.56" stroke="#a4a4a4" stroke-width="0.85" />
<line x1="357.90" y1="194.20" x2="357.90" y2="192.94" stroke="#a4a4a4" stroke-width="0.85" />
<line x1="375.08" y1="10.80" x2="375.08" y2="12.01" stroke="#a4a4a4" stroke-width="0.85" />
<line x1="375.08" y1="131.30" x2="375.08" y2="130.09" stroke="#a4a4a4" stroke-width="0.85" />
<line x1="375.08" y1="131.30" x2="375.08" y2="131.93" stroke="#a4a4a4" stroke-width="0.85" />
<line x1="375.08" y1="194.20" x2="375.08" y2="193.57" stroke="#a4a4a4" stroke-width="0.85" />
<line x1="392.26" y1="10.80" x2="392.26" y2="12.01" stroke="#a4a4a4" stroke-width="0.85" />
<line x1="392.26" y1="131.30" x2="392.26" y2="130.09" stroke="#a4a4a4" stroke-width="0.85" />
<line x1="392.26" y1="131.30" x2="392.26" y2="131.93" stroke="#a4a4a4" stroke-width="0.85" />
<line x1="392.26" y1="194.20" x2="392.26" y2="193.57" stroke="#a4a4a4" stroke-width="0.85" />
<line x1="409.44" y1="10.80" x2="409.44" y2="12.01" stroke="#a4a4a4" stroke-width="0.85" />
<line x1="409.44" y1="131.30" x2="409.44" y2="130.09" stroke="#a4a4a4" stroke-width="0.85" />
<line x1="409.44" y1="131.30" x2="409.44" y2="131.93" stroke="#a4a4a4" stroke-width="0.85" />
<line x1="409.44" y1="194.20" x2="409.44" y2="193.57" stroke="#a4a4a4" stroke-width="0.85" />
<line x1="426.62" y1="10.80" x2="426.62" y2="12.01" stroke="#a4a4a4" stroke-width="0.85" />
<line x1="426.62" y1="131.30" x2="426.62" y2="130.09" stroke="#a4a4a4" stroke-width="0.85" />
<line x1="426.62" y1="131.30" x2="426.62" y2="131.93" stroke="#a4a4a4" stroke-width="0.85" />
<line x1="426.62" y1="194.20" x2="426.62" y2="193.57" stroke="#a4a4a4" stroke-width="0.85" />
<line x1="443.80" y1="10.80" x2="443.80" y2="13.21" stroke="#a4a4a4" stroke-width="0.85" />
<line x1="443.80" y1="131.30" x2="443.80" y2="128.89" stroke="#a4a4a4" stroke-width="0.85" />
<line x1="443.80" y1="131.30" x2="443.80" y2="132.56" stroke="#a4a4a4" stroke-width="0.85" />
<line x1="443.80" y1="194.20" x2="443.80" y2="192.94" stroke="#a4a4a4" stroke-width="0.85" />
<line x1="460.98" y1="10.80" x2="460.98" y2="12.01" stroke="#a4a4a4" stroke-width="0.85" />
<line x1="460.98" y1="131.30" x2="460.98" y2="130.09" stroke="#a4a4a4" stroke-width="0.85" />
<line x1="460.98" y1="131.30" x2="460.98" y2="131.93" stroke="#a4a4a4" stroke-width="0.85" />
<line x1="460.98" y1="194.20" x2="460.98" y2="193.57" stroke="#a4a4a4" stroke-width="0.85" />
<line x1="478.16" y1="10.80" x2="478.16" y2="12.01" stroke="#a4a4a4" stroke-width="0.85" />
<line x1="478.16" y1="131.30" x2="478.16" y2="130.09" stroke="#a4a4a4" stroke-width="0.85" />
<line x1="478.16" y1="131.30" x2="478.16" y2="131.93" stroke="#a4a4a4" stroke-width="0.85" />
<line x1="478.16" y1="194.20" x2="478.16" y2="193.57" stroke="#a4a4a4" stroke-width="0.85" />
<line x1="495.34" y1="10.80" x2="495.34" y2="12.01" stroke="#a4a4a4" stroke-width="0.85" />
<line x1="495.34" y1="131.30" x2="495.34" y2="130.09" stroke="#a4a4a4" stroke-width="0.85" />
<line x1="495.34" y1="131.30" x2="495.34" y2="131.93" stroke="#a4a4a4" stroke-width="0.85" />
<line x1="495.34" y1="194.20" x2="495.34" y2="193.57" stroke="#a4a4a4" stroke-width="0.85" />
<line x1="512.52" y1="10.80" x2="512.52" y2="12.01" stroke="#a4a4a4" stroke-width="0.85" />
<line x1="512.52" y1="131.30" x2="512.52" y2="130.09" stroke="#a4a4a4" stroke-width="0.85" />
<line x1="512.52" y1="131.30" x2="512.52" y2="131.93" stroke="#a4a4a4" stroke-width="0.85" />
<line x1="512.52" y1="194.20" x2="512.52" y2="193.57" stroke="#a4a4a4" stroke-width="0.85" />
<line x1="529.70" y1="10.80" x2="529.70" y2="13.21" stroke="#a4a4a4" stroke-width="0.85" />
<line x1="529.70" y1="131.30" x2="529.70" y2="128.89" stroke="#a4a4a4" stroke-width="0.85" />
<line x1="529.70" y1="131.30" x2="529.70" y2="132.56" stroke="#a4a4a4" stroke-width="0.85" />
<line x1="529.70" y1="194.20" x2="529.70" y2="192.94" stroke="#a4a4a4" stroke-width="0.85" />
<line x1="546.88" y1="10.80" x2="546.88" y2="12.01" stroke="#a4a4a4" stroke-width="0.85" />
<line x1="546.88" y1="131.30" x2="546.88" y2="130.09" stroke="#a4a4a4" stroke-width="0.85" />
<line x1="546.88" y1="131.30" x2="546.88" y2="131.93" stroke="#a4a4a4" stroke-width="0.85" />
<line x1="546.88" y1="194.20" x2="546.88" y2="193.57" stroke="#a4a4a4" stroke-width="0.85" />
<line x1="323.70" y1="130.60" x2="326.10" y2="130.60" stroke="#a4a4a4" stroke-width="0.85" />
<line x1="563.80" y1="130.60" x2="561.40" y2="130.60" stroke="#a4a4a4" stroke-width="0.85" />
<line x1="323.70" y1="126.55" x2="328.50" y2="126.55" stroke="#a4a4a4" stroke-width="0.85" />
<line x1="563.80" y1="126.55" x2="559.00" y2="126.55" stroke="#a4a4a4" stroke-width="0.85" />
<line x1="323.70" y1="122.50" x2="326.10" y2="122.50" stroke="#a4a4a4" stroke-width="0.85" />
<line x1="563.80" y1="122.50" x2="561.40" y2="122.50" stroke="#a4a4a4" stroke-width="0.85" />
<line x1="323.70" y1="118.45" x2="326.10" y2="118.45" stroke="#a4a4a4" stroke-width="0.85" />
<line x1="563.80" y1="118.45" x2="561.40" y2="118.45" stroke="#a4a4a4" stroke-width="0.85" />
<line x1="323.70" y1="114.40" x2="326.10" y2="114.40" stroke="#a4a4a4" stroke-width="0.85" />
<line x1="563.80" y1="114.40" x2="561.40" y2="114.40" stroke="#a4a4a4" stroke-width="0.85" />
<line x1="323.70" y1="110.35" x2="326.10" y2="110.35" stroke="#a4a4a4" stroke-width="0.85" />
<line x1="563.80" y1="110.35" x2="561.40" y2="110.35" stroke="#a4a4a4" stroke-width="0.85" />
<line x1="323.70" y1="106.30" x2="328.50" y2="106.30" stroke="#a4a4a4" stroke-width="0.85" />
<line x1="563.80" y1="106.30" x2="559.00" y2="106.30" stroke="#a4a4a4" stroke-width="0.85" />
<line x1="323.70" y1="102.25" x2="326.10" y2="102.25" stroke="#a4a4a4" stroke-width="0.85" />
<line x1="563.80" y1="102.25" x2="561.40" y2="102.25" stroke="#a4a4a4" stroke-width="0.85" />
<line x1="323.70" y1="98.20" x2="326.10" y2="98.20" stroke="#a4a4a4" stroke-width="0.85" />
<line x1="563.80" y1="98.20" x2="561.40" y2="98.20" stroke="#a4a4a4" stroke-width="0.85" />
<line x1="323.70" y1="94.15" x2="326.10" y2="94.15" stroke="#a4a4a4" stroke-width="0.85" />
<line x1="563.80" y1="94.15" x2="561.40" y2="94.15" stroke="#a4a4a4" stroke-width="0.85" />
<line x1="323.70" y1="90.10" x2="326.10" y2="90.10" stroke="#a4a4a4" stroke-width="0.85" />
<line x1="563.80" y1="90.10" x2="561.40" y2="90.10" stroke="#a4a4a4" stroke-width="0.85" />
<line x1="323.70" y1="86.05" x2="328.50" y2="86.05" stroke="#a4a4a4" stroke-width="0.85" />
<line x1="563.80" y1="86.05" x2="559.00" y2="86.05" stroke="#a4a4a4" stroke-width="0.85" />
<line x1="323.70" y1="82.00" x2="326.10" y2="82.00" stroke="#a4a4a4" stroke-width="0.85" />
<line x1="563.80" y1="82.00" x2="561.40" y2="82.00" stroke="#a4a4a4" stroke-width="0.85" />
<line x1="323.70" y1="77.95" x2="326.10" y2="77.95" stroke="#a4a4a4" stroke-width="0.85" />
<line x1="563.80" y1="77.95" x2="561.40" y2="77.95" stroke="#a4a4a4" stroke-width="0.85" />
<line x1="323.70" y1="73.90" x2="326.10" y2="73.90" stroke="#a4a4a4" stroke-width="0.85" />
<line x1="563.80" y1="73.90" x2="561.40" y2="73.90" stroke="#a4a4a4" stroke-width="0.85" />
<line x1="323.70" y1="69.85" x2="326.10" y2="69.85" stroke="#a4a4a4" stroke-width="0.85" />
<line x1="563.80" y1="69.85" x2="561.40" y2="69.85" stroke="#a4a4a4" stroke-width="0.85" />
<line x1="323.70" y1="65.80" x2="328.50" y2="65.80" stroke="#a4a4a4" stroke-width="0.85" />
<line x1="563.80" y1="65.80" x2="559.00" y2="65.80" stroke="#a4a4a4" stroke-width="0.85" />
<line x1="323.70" y1="61.75" x2="326.10" y2="61.75" stroke="#a4a4a4" stroke-width="0.85" />
<line x1="563.80" y1="61.75" x2="561.40" y2="61.75" stroke="#a4a4a4" stroke-width="0.85" />
<line x1="323.70" y1="57.70" x2="326.10" y2="57.70" stroke="#a4a4a4" stroke-width="0.85" />
<line x1="563.80" y1="57.70" x2="561.40" y2="57.70" stroke="#a4a4a4" stroke-width="0.85" />
<line x1="323.70" y1="53.65" x2="326.10" y2="53.65" stroke="#a4a4a4" stroke-width="0.85" />
<line x1="563.80" y1="53.65" x2="561.40" y2="53.65" stroke="#a4a4a4" stroke-width="0.85" />
<line x1="323.70" y1="49.60" x2="326.10" y2="49.60" stroke="#a4a4a4" stroke-width="0.85" />
<line x1="563.80" y1="49.60" x2="561.40" y2="49.60" stroke="#a4a4a4" stroke-width="0.85" />
<line x1="323.70" y1="45.55" x2="328.50" y2="45.55" stroke="#a4a4a4" stroke-width="0.85" />
<line x1="563.80" y1="45.55" x2="559.00" y2="45.55" stroke="#a4a4a4" stroke-width="0.85" />
<line x1="323.70" y1="41.50" x2="326.10" y2="41.50" stroke="#a4a4a4" stroke-width="0.85" />
<line x1="563.80" y1="41.50" x2="561.40" y2="41.50" stroke="#a4a4a4" stroke-width="0.85" />
<line x1="323.70" y1="37.45" x2="326.10" y2="37.45" stroke="#a4a4a4" stroke-width="0.85" />
<line x1="563.80" y1="37.45" x2="561.40" y2="37.45" stroke="#a4a4a4" stroke-width="0.85" />
<line x1="323.70" y1="33.40" x2="326.10" y2="33.40" stroke="#a4a4a4" stroke-width="0.85" />
<line x1="563.80" y1="33.40" x2="561.40" y2="33.40" stroke="#a4a4a4" stroke-width="0.85" />
<line x1="323.70" y1="29.35" x2="326.10" y2="29.35" stroke="#a4a4a4" stroke-width="0.85" />
<line x1="563.80" y1="29.35" x2="561.40" y2="29.35" stroke="#a4a4a4" stroke-width="0.85" />
<line x1="323.70" y1="25.30" x2="328.50" y2="25.30" stroke="#a4a4a4" stroke-width="0.85" />
<line x1="563.80" y1="25.30" x2="559.00" y2="25.30" stroke="#a4a4a4" stroke-width="0.85" />
<line x1="323.70" y1="21.25" x2="326.10" y2="21.25" stroke="#a4a4a4" stroke-width="0.85" />
<line x1="563.80" y1="21.25" x2="561.40" y2="21.25" stroke="#a4a4a4" stroke-width="0.85" />
<line x1="323.70" y1="17.20" x2="326.10" y2="17.20" stroke="#a4a4a4" stroke-width="0.85" />
<line x1="563.80" y1="17.20" x2="561.40" y2="17.20" stroke="#a4a4a4" stroke-width="0.85" />
<line x1="323.70" y1="13.15" x2="326.10" y2="13.15" stroke="#a4a4a4" stroke-width="0.85" />
<line x1="563.80" y1="13.15" x2="561.40" y2="13.15" stroke="#a4a4a4" stroke-width="0.85" />
<line x1="323.70" y1="193.70" x2="328.50" y2="193.70" stroke="#a4a4a4" stroke-width="0.85" />
<line x1="563.80" y1="193.70" x2="559.00" y2="193.70" stroke="#a4a4a4" stroke-width="0.85" />
<line x1="323.70" y1="192.15" x2="326.10" y2="192.15" stroke="#a4a4a4" stroke-width="0.85" />
<line x1="563.80" y1="192.15" x2="561.40" y2="192.15" stroke="#a4a4a4" stroke-width="0.85" />
<line x1="323.70" y1="190.60" x2="326.10" y2="190.60" stroke="#a4a4a4" stroke-width="0.85" />
<line x1="563.80" y1="190.60" x2="561.40" y2="190.60" stroke="#a4a4a4" stroke-width="0.85" />
<line x1="323.70" y1="189.05" x2="326.10" y2="189.05" stroke="#a4a4a4" stroke-width="0.85" />
<line x1="563.80" y1="189.05" x2="561.40" y2="189.05" stroke="#a4a4a4" stroke-width="0.85" />
<line x1="323.70" y1="187.50" x2="326.10" y2="187.50" stroke="#a4a4a4" stroke-width="0.85" />
<line x1="563.80" y1="187.50" x2="561.40" y2="187.50" stroke="#a4a4a4" stroke-width="0.85" />
<line x1="323.70" y1="185.95" x2="326.10" y2="185.95" stroke="#a4a4a4" stroke-width="0.85" />
<line x1="563.80" y1="185.95" x2="561.40" y2="185.95" stroke="#a4a4a4" stroke-width="0.85" />
<line x1="323.70" y1="184.40" x2="326.10" y2="184.40" stroke="#a4a4a4" stroke-width="0.85" />
<line x1="563.80" y1="184.40" x2="561.40" y2="184.40" stroke="#a4a4a4" stroke-width="0.85" />
<line x1="323.70" y1="182.85" x2="326.10" y2="182.85" stroke="#a4a4a4" stroke-width="0.85" />
<line x1="563.80" y1="182.85" x2="561.40" y2="182.85" stroke="#a4a4a4" stroke-width="0.85" />
<line x1="323.70" y1="181.30" x2="326.10" y2="181.30" stroke="#a4a4a4" stroke-width="0.85" />
<line x1="563.80" y1="181.30" x2="561.40" y2="181.30" stroke="#a4a4a4" stroke-width="0.85" />
<line x1="323.70" y1="179.75" x2="326.10" y2="179.75" stroke="#a4a4a4" stroke-width="0.85" />
<line x1="563.80" y1="179.75" x2="561.40" y2="179.75" stroke="#a4a4a4" stroke-width="0.85" />
<line x1="323.70" y1="178.20" x2="328.50" y2="178.20" stroke="#a4a4a4" stroke-width="0.85" />
<line x1="563.80" y1="178.20" x2="559.00" y2="178.20" stroke="#a4a4a4" stroke-width="0.85" />
<line x1="323.70" y1="176.65" x2="326.10" y2="176.65" stroke="#a4a4a4" stroke-width="0.85" />
<line x1="563.80" y1="176.65" x2="561.40" y2="176.65" stroke="#a4a4a4" stroke-width="0.85" />
<line x1="323.70" y1="175.10" x2="326.10" y2="175.10" stroke="#a4a4a4" stroke-width="0.85" />
<line x1="563.80" y1="175.10" x2="561.40" y2="175.10" stroke="#a4a4a4" stroke-width="0.85" />
<line x1="323.70" y1="173.55" x2="326.10" y2="173.55" stroke="#a4a4a4" stroke-width="0.85" />
<line x1="563.80" y1="173.55" x2="561.40" y2="173.55" stroke="#a4a4a4" stroke-width="0.85" />
<line x1="323.70" y1="172.00" x2="326.10" y2="172.00" stroke="#a4a4a4" stroke-width="0.85" />
<line x1="563.80" y1="172.00" x2="561.40" y2="172.00" stroke="#a4a4a4" stroke-width="0.85" />
<line x1="323.70" y1="170.45" x2="326.10" y2="170.45" stroke="#a4a4a4" stroke-width="0.85" />
<line x1="563.80" y1="170.45" x2="561.40" y2="170.45" stroke="#a4a4a4" stroke-width="0.85" />
<line x1="323.70" y1="168.90" x2="326.10" y2="168.90" stroke="#a4a4a4" stroke-width="0.85" />
<line x1="563.80" y1="168.90" x2="561.40" y2="168.90" stroke="#a4a4a4" stroke-width="0.85" />
<line x1="323.70" y1="167.35" x2="326.10" y2="167.35" stroke="#a4a4a4" stroke-width="0.85" />
<line x1="563.80" y1="167.35" x2="561.40" y2="167.35" stroke="#a4a4a4" stroke-width="0.85" />
<line x1="323.70" y1="165.80" x2="326.10" y2="165.80" stroke="#a4a4a4" stroke-width="0.85" />
<line x1="563.80" y1="165.80" x2="561.40" y2="165.80" stroke="#a4a4a4" stroke-width="0.85" />
<line x1="323.70" y1="164.25" x2="326.10" y2="164.25" stroke="#a4a4a4" stroke-width="0.85" />
<line x1="563.80" y1="164.25" x2="561.40" y2="164.25" stroke="#a4a4a4" stroke-width="0.85" />
<line x1="323.70" y1="162.70" x2="328.50" y2="162.70" stroke="#a4a4a4" stroke-width="0.85" />
<line x1="563.80" y1="162.70" x2="559.00" y2="162.70" stroke="#a4a4a4" stroke-width="0.85" />
<line x1="323.70" y1="161.15" x2="326.10" y2="161.15" stroke="#a4a4a4" stroke-width="0.85" />
<line x1="563.80" y1="161.15" x2="561.40" y2="161.15" stroke="#a4a4a4" stroke-width="0.85" />
<line x1="323.70" y1="159.60" x2="326.10" y2="159.60" stroke="#a4a4a4" stroke-width="0.85" />
<line x1="563.80" y1="159.60" x2="561.40" y2="159.60" stroke="#a4a4a4" stroke-width="0.85" />
<line x1="323.70" y1="158.05" x2="326.10" y2="158.05" stroke="#a4a4a4" stroke-width="0.85" />
<line x1="563.80" y1="158.05" x2="561.40" y2="158.05" stroke="#a4a4a4" stroke-width="0.85" />
<line x1="323.70" y1="156.50" x2="326.10" y2="156.50" stroke="#a4a4a4" stroke-width="0.85" />
<line x1="563.80" y1="156.50" x2="561.40" y2="156.50" stroke="#a4a4a4" stroke-width="0.85" />
<line x1="323.70" y1="154.95" x2="326.10" y2="154.95" stroke="#a4a4a4" stroke-width="0.85" />
<line x1="563.80" y1="154.95" x2="561.40" y2="154.95" stroke="#a4a4a4" stroke-width="0.85" />
<line x1="323.70" y1="153.40" x2="326.10" y2="153.40" stroke="#a4a4a4" stroke-width="0.85" />
<line x1="563.80" y1="153.40" x2="561.40" y2="153.40" stroke="#a4a4a4" stroke-width="0.85" />
<line x1="323.70" y1="151.85" x2="326.10" y2="151.85" stroke="#a4a4a4" stroke-width="0.85" />
<line x1="563.80" y1="151.85" x2="561.40" y2="151.85" stroke="#a4a4a4" stroke-width="0.85" />
<line x1="323.70" y1="150.30" x2="326.10" y2="150.30" stroke="#a4a4a4" stroke-width="0.85" />
<line x1="563.80" y1="150.30" x2="561.40" y2="150.30" stroke="#a4a4a4" stroke-width="0.85" />
<line x1="323.70" y1="148.75" x2="326.10" y2="148.75" stroke="#a4a4a4" stroke-width="0.85" />
<line x1="563.80" y1="148.75" x2="561.40" y2="148.75" stroke="#a4a4a4" stroke-width="0.85" />
<line x1="323.70" y1="147.20" x2="328.50" y2="147.20" stroke="#a4a4a4" stroke-width="0.85" />
<line x1="563.80" y1="147.20" x2="559.00" y2="147.20" stroke="#a4a4a4" stroke-width="0.85" />
<line x1="323.70" y1="145.65" x2="326.10" y2="145.65" stroke="#a4a4a4" stroke-width="0.85" />
<line x1="563.80" y1="145.65" x2="561.40" y2="145.65" stroke="#a4a4a4" stroke-width="0.85" />
<line x1="323.70" y1="144.10" x2="326.10" y2="144.10" stroke="#a4a4a4" stroke-width="0.85" />
<line x1="563.80" y1="144.10" x2="561.40" y2="144.10" stroke="#a4a4a4" stroke-width="0.85" />
<line x1="323.70" y1="142.55" x2="326.10" y2="142.55" stroke="#a4a4a4" stroke-width="0.85" />
<line x1="563.80" y1="142.55" x2="561.40" y2="142.55" stroke="#a4a4a4" stroke-width="0.85" />
<line x1="323.70" y1="141.00" x2="326.10" y2="141.00" stroke="#a4a4a4" stroke-width="0.85" />
<line x1="563.80" y1="141.00" x2="561.40" y2="141.00" stroke="#a4a4a4" stroke-width="0.85" />
<line x1="323.70" y1="139.45" x2="326.10" y2="139.45" stroke="#a4a4a4" stroke-width="0.85" />
<line x1="563.80" y1="139.45" x2="561.40" y2="139.45" stroke="#a4a4a4" stroke-width="0.85" />
<line x1="323.70" y1="137.90" x2="326.10" y2="137.90" stroke="#a4a4a4" stroke-width="0.85" />
<line x1="563.80" y1="137.90" x2="561.40" y2="137.90" stroke="#a4a4a4" stroke-width="0.85" />
<line x1="323.70" y1="136.35" x2="326.10" y2="136.35" stroke="#a4a4a4" stroke-width="0.85" />
<line x1="563.80" y1="136.35" x2="561.40" y2="136.35" stroke="#a4a4a4" stroke-width="0.85" />
<line x1="323.70" y1="134.80" x2="326.10" y2="134.80" stroke="#a4a4a4" stroke-width="0.85" />
<line x1="563.80" y1="134.80" x2="561.40" y2="134.80" stroke="#a4a4a4" stroke-width="0.85" />
<line x1="323.70" y1="133.25" x2="326.10" y2="133.25" stroke="#a4a4a4" stroke-width="0.85" />
<line x1="563.80" y1="133.25" x2="561.40" y2="133.25" stroke="#a4a4a4" stroke-width="0.85" />
<line x1="323.70" y1="131.70" x2="328.50" y2="131.70" stroke="#a4a4a4" stroke-width="0.85" />
<line x1="563.80" y1="131.70" x2="559.00" y2="131.70" stroke="#a4a4a4" stroke-width="0.85" />
<line x1="323.70" y1="163.00" x2="563.80" y2="163.00" stroke="#bdbdbd" stroke-width="1.6" stroke-dasharray="2.2 2.48" stroke-dashoffset="0"/>
<text transform="translate(321.80,28.05) scale(0.9,1)" text-anchor="end" font-size="8.4">100</text>
<text transform="translate(321.80,48.30) scale(0.9,1)" text-anchor="end" font-size="8.4">50</text>
<text transform="translate(321.80,68.55) scale(0.9,1)" text-anchor="end" font-size="8.4">0</text>
<text transform="translate(321.80,88.80) scale(0.9,1)" text-anchor="end" font-size="8.4">-50</text>
<text transform="translate(321.80,109.05) scale(0.9,1)" text-anchor="end" font-size="8.4">-100</text>
<text transform="translate(321.80,193.45) scale(0.9,1)" text-anchor="end" font-size="8.4">-20</text>
<text transform="translate(321.80,180.95) scale(0.9,1)" text-anchor="end" font-size="8.4">-10</text>
<text transform="translate(321.80,165.45) scale(0.9,1)" text-anchor="end" font-size="8.4">0</text>
<text transform="translate(321.80,149.95) scale(0.9,1)" text-anchor="end" font-size="8.4">10</text>
<text transform="translate(321.80,137.05) scale(0.9,1)" text-anchor="end" font-size="8.4">20</text>
<text transform="translate(358.30,203.60) scale(0.9,1)" text-anchor="middle" font-size="8.4">0.0</text>
<text transform="translate(444.20,203.60) scale(0.9,1)" text-anchor="middle" font-size="8.4">0.5</text>
<text transform="translate(530.10,203.60) scale(0.9,1)" text-anchor="middle" font-size="8.4">1.0</text>
<text transform="translate(444.35,211.75) scale(0.9,1)" text-anchor="middle" font-size="8.4">Orbital Phase</text>
<text transform="translate(443.95,7.10) scale(0.912,1)" text-anchor="middle" font-size="10.1">KIC5444392</text>
<text transform="translate(300.50,71.35) rotate(-90) scale(0.925,1)" text-anchor="middle" font-size="8.1">Radial Velocity (km s<tspan font-size="3.8" dy="-3.6">-1</tspan><tspan dy="3.6">)</tspan></text>
<text transform="translate(304.50,162.75) rotate(-90) scale(0.925,1)" text-anchor="middle" font-size="8.1">O-C (km s<tspan font-size="3.8" dy="-3.6">-1</tspan><tspan dy="3.6">)</tspan></text>
<line x1="327.00" y1="162.00" x2="327.00" y2="168.60" stroke="#999" stroke-width="0.6" />
<line x1="385.80" y1="163.20" x2="385.80" y2="169.80" stroke="#999" stroke-width="0.6" />
<line x1="398.30" y1="161.70" x2="398.30" y2="168.30" stroke="#999" stroke-width="0.6" />
<line x1="399.50" y1="162.50" x2="399.50" y2="169.10" stroke="#999" stroke-width="0.6" />
<line x1="407.00" y1="152.50" x2="407.00" y2="159.10" stroke="#999" stroke-width="0.6" />
<line x1="407.80" y1="155.50" x2="407.80" y2="162.10" stroke="#999" stroke-width="0.6" />
<line x1="412.80" y1="159.90" x2="412.80" y2="166.50" stroke="#999" stroke-width="0.6" />
<line x1="480.20" y1="159.40" x2="480.20" y2="166.00" stroke="#999" stroke-width="0.6" />
<line x1="486.00" y1="159.00" x2="486.00" y2="165.60" stroke="#999" stroke-width="0.6" />
<line x1="494.80" y1="159.90" x2="494.80" y2="166.50" stroke="#999" stroke-width="0.6" />
<line x1="498.50" y1="162.20" x2="498.50" y2="168.80" stroke="#999" stroke-width="0.6" />
<line x1="557.60" y1="163.30" x2="557.60" y2="169.90" stroke="#999" stroke-width="0.6" />
<line x1="327.00" y1="148.90" x2="327.00" y2="154.50" stroke="#c4c4c4" stroke-width="0.6" />
<line x1="385.80" y1="158.20" x2="385.80" y2="163.80" stroke="#c4c4c4" stroke-width="0.6" />
<line x1="398.50" y1="166.20" x2="398.50" y2="171.80" stroke="#c4c4c4" stroke-width="0.6" />
<line x1="407.50" y1="156.20" x2="407.50" y2="161.80" stroke="#c4c4c4" stroke-width="0.6" />
<line x1="412.80" y1="159.70" x2="412.80" y2="165.30" stroke="#c4c4c4" stroke-width="0.6" />
<line x1="480.20" y1="162.40" x2="480.20" y2="168.00" stroke="#c4c4c4" stroke-width="0.6" />
<line x1="486.00" y1="160.20" x2="486.00" y2="165.80" stroke="#c4c4c4" stroke-width="0.6" />
<line x1="494.80" y1="160.20" x2="494.80" y2="165.80" stroke="#c4c4c4" stroke-width="0.6" />
<line x1="498.50" y1="148.90" x2="498.50" y2="154.50" stroke="#c4c4c4" stroke-width="0.6" />
<line x1="557.60" y1="158.60" x2="557.60" y2="164.20" stroke="#c4c4c4" stroke-width="0.6" />
<line x1="327.00" y1="144.00" x2="327.00" y2="172.50" stroke="#bbb" stroke-width="0.6" />
<line x1="498.50" y1="144.00" x2="498.50" y2="172.50" stroke="#777" stroke-width="0.6" />
<line x1="398.50" y1="160.00" x2="398.50" y2="174.00" stroke="#999" stroke-width="0.6" />
<line x1="557.60" y1="156.00" x2="557.60" y2="170.00" stroke="#999" stroke-width="0.6" />
<circle cx="327.0" cy="113.0" r="1.35" fill="none" stroke="#8f8f8f" stroke-width="0.5"/>
<circle cx="385.7" cy="28.0" r="1.35" fill="none" stroke="#8f8f8f" stroke-width="0.5"/>
<circle cx="398.4" cy="22.8" r="1.35" fill="none" stroke="#8f8f8f" stroke-width="0.5"/>
<circle cx="398.9" cy="23.2" r="1.35" fill="none" stroke="#8f8f8f" stroke-width="0.5"/>
<circle cx="407.3" cy="21.8" r="1.35" fill="none" stroke="#8f8f8f" stroke-width="0.5"/>
<circle cx="412.7" cy="25.5" r="1.35" fill="none" stroke="#8f8f8f" stroke-width="0.5"/>
<circle cx="480.1" cy="119.2" r="1.35" fill="none" stroke="#8f8f8f" stroke-width="0.5"/>
<circle cx="486.1" cy="120.2" r="1.35" fill="none" stroke="#8f8f8f" stroke-width="0.5"/>
<circle cx="495.1" cy="118.0" r="1.35" fill="none" stroke="#8f8f8f" stroke-width="0.5"/>
<circle cx="498.6" cy="112.6" r="1.35" fill="none" stroke="#8f8f8f" stroke-width="0.5"/>
<circle cx="557.4" cy="28.0" r="1.35" fill="none" stroke="#8f8f8f" stroke-width="0.5"/>
<circle cx="327.0" cy="151.7" r="1.35" fill="#fff" fill-opacity="0.75" stroke="#8f8f8f" stroke-width="0.5"/>
<circle cx="385.8" cy="161.0" r="1.35" fill="#fff" fill-opacity="0.75" stroke="#8f8f8f" stroke-width="0.5"/>
<circle cx="398.5" cy="169.0" r="1.35" fill="#fff" fill-opacity="0.75" stroke="#8f8f8f" stroke-width="0.5"/>
<circle cx="407.5" cy="159.0" r="1.35" fill="#fff" fill-opacity="0.75" stroke="#8f8f8f" stroke-width="0.5"/>
<circle cx="412.8" cy="162.5" r="1.35" fill="#fff" fill-opacity="0.75" stroke="#8f8f8f" stroke-width="0.5"/>
<circle cx="480.2" cy="165.2" r="1.35" fill="#fff" fill-opacity="0.75" stroke="#8f8f8f" stroke-width="0.5"/>
<circle cx="486.0" cy="163.0" r="1.35" fill="#fff" fill-opacity="0.75" stroke="#8f8f8f" stroke-width="0.5"/>
<circle cx="494.8" cy="163.0" r="1.35" fill="#fff" fill-opacity="0.75" stroke="#8f8f8f" stroke-width="0.5"/>
<circle cx="498.5" cy="151.7" r="1.35" fill="#fff" fill-opacity="0.75" stroke="#8f8f8f" stroke-width="0.5"/>
<circle cx="557.6" cy="161.4" r="1.35" fill="#fff" fill-opacity="0.75" stroke="#8f8f8f" stroke-width="0.5"/>
<circle cx="327.0" cy="26.2" r="1.42" fill="#000"/>
<circle cx="385.7" cy="114.5" r="1.42" fill="#000"/>
<circle cx="398.2" cy="121.1" r="1.42" fill="#000"/>
<circle cx="399.3" cy="121.5" r="1.42" fill="#000"/>
<circle cx="406.9" cy="117.7" r="1.42" fill="#000"/>
<circle cx="408.0" cy="118.4" r="1.42" fill="#000"/>
<circle cx="412.7" cy="116.4" r="1.42" fill="#000"/>
<circle cx="480.1" cy="22.4" r="1.42" fill="#000"/>
<circle cx="486.1" cy="20.8" r="1.42" fill="#000"/>
<circle cx="495.1" cy="23.3" r="1.42" fill="#000"/>
<circle cx="498.6" cy="26.2" r="1.42" fill="#000"/>
<circle cx="557.8" cy="114.5" r="1.42" fill="#000"/>
<circle cx="327.0" cy="165.3" r="1.42" fill="#000"/>
<circle cx="385.8" cy="166.5" r="1.42" fill="#000"/>
<circle cx="398.3" cy="165.0" r="1.42" fill="#000"/>
<circle cx="399.5" cy="165.8" r="1.42" fill="#000"/>
<circle cx="407.0" cy="155.8" r="1.42" fill="#000"/>
<circle cx="407.8" cy="158.8" r="1.42" fill="#000"/>
<circle cx="412.8" cy="163.2" r="1.42" fill="#000"/>
<circle cx="480.2" cy="162.7" r="1.42" fill="#000"/>
<circle cx="486.0" cy="162.3" r="1.42" fill="#000"/>
<circle cx="494.8" cy="163.2" r="1.42" fill="#000"/>
<circle cx="498.5" cy="165.5" r="1.42" fill="#000"/>
<circle cx="557.6" cy="166.6" r="1.42" fill="#000"/>
<polyline fill="none" stroke="#555" stroke-width="0.6" points="156.82,351.63 157.99,350.90 159.17,350.10 160.34,349.22 161.52,348.27 162.69,347.26 163.86,346.17 165.04,345.02 166.21,343.81 167.39,342.53 168.56,341.20 169.73,339.81 170.91,338.36 172.08,336.87 173.25,335.32 174.43,333.73 175.60,332.10 176.78,330.43 177.95,328.72 179.12,326.97 180.30,325.20 181.47,323.40 182.65,321.58 183.82,319.73 184.99,317.87 186.17,316.00 187.34,314.11 188.52,312.22 189.69,310.33 190.86,308.43 192.04,306.54 193.21,304.66 194.38,302.78 195.56,300.93 196.73,299.08 197.91,297.26 199.08,295.47 200.25,293.70 201.43,291.96 202.60,290.26 203.78,288.60 204.95,286.97 206.12,285.39 207.30,283.85 208.47,282.36 209.65,280.93 210.82,279.55 211.99,278.22 213.17,276.96 214.34,275.75 215.51,274.62 216.69,273.54 217.86,272.54 219.04,271.60 220.21,270.74 221.38,269.95 222.56,269.23 223.73,268.59 224.91,268.02 226.08,267.54 227.25,267.13 228.43,266.81 229.60,266.56 230.78,266.39 231.95,266.31 233.12,266.31 234.30,266.38 235.47,266.54 236.65,266.78 237.82,267.10 238.99,267.50 240.17,267.98 241.34,268.54 242.51,269.17 243.69,269.88 244.86,270.67 246.04,271.53 247.21,272.46 248.38,273.45 249.56,274.52 250.73,275.66 251.91,276.85 253.08,278.11 254.25,279.43 255.43,280.81 256.60,282.24 257.78,283.72 258.95,285.26 260.12,286.83 261.30,288.46 262.47,290.12 263.64,291.82 264.82,293.55 265.99,295.32 267.17,297.11 268.34,298.93 269.51,300.77 270.69,302.63 271.86,304.50 273.04,306.38 274.21,308.27 275.38,310.17 276.56,312.06 277.73,313.95 278.91,315.84 280.08,317.71 281.25,319.58 282.43,321.42 283.60,323.25 284.78,325.05 285.95,326.83 287.12,328.57 288.30,330.28 289.47,331.96 290.64,333.60 291.82,335.19 292.99,336.74 294.17,338.24 295.34,339.69 296.51,341.08 297.69,342.42 298.86,343.70 300.04,344.92 301.21,346.08 302.38,347.17 303.56,348.19 304.73,349.15 305.91,350.03 307.08,350.84 308.25,351.57 309.43,352.24 310.60,352.82 311.77,353.33 312.95,353.75 314.12,354.10 315.30,354.37 316.47,354.55 317.64,354.66 318.82,354.68 319.99,354.63 321.17,354.49 322.34,354.27 323.51,353.97 324.69,353.59 325.86,353.13 327.04,352.60 328.21,351.98 329.38,351.29 330.56,350.53 331.73,349.69 332.90,348.78 334.08,347.80 335.25,346.74 336.43,345.63 337.60,344.45 338.77,343.20 339.95,341.90 341.12,340.54 342.30,339.12 343.47,337.65 344.64,336.13 345.82,334.56 346.99,332.95 348.17,331.30 349.34,329.61 350.51,327.88 351.69,326.13 352.86,324.34 354.04,322.53 355.21,320.69 356.38,318.84 357.56,316.97 358.73,315.09 359.90,313.20 361.08,311.31 362.25,309.42 363.43,307.52 364.60,305.64 365.77,303.76 366.95,301.89 368.12,300.04 369.30,298.21 370.47,296.40 371.64,294.62 372.82,292.86 373.99,291.14 375.17,289.46 376.34,287.81 377.51,286.20 378.69,284.64 379.86,283.13 381.03,281.67 382.21,280.26 383.38,278.90 384.56,277.61 385.73,276.37 386.90,275.20 388.08,274.09 389.25,273.05 390.43,272.08 391.60,271.18"/>
<polyline fill="none" stroke="#555" stroke-width="0.6" points="155.10,265.61 156.30,266.30 157.51,267.08 158.71,267.94 159.92,268.89 161.12,269.92 162.32,271.03 163.53,272.22 164.73,273.48 165.94,274.81 167.14,276.22 168.34,277.70 169.55,279.24 170.75,280.84 171.96,282.50 173.16,284.21 174.36,285.98 175.57,287.80 176.77,289.67 177.98,291.57 179.18,293.51 180.38,295.49 181.59,297.50 182.79,299.54 184.00,301.60 185.20,303.67 186.40,305.76 187.61,307.87 188.81,309.98 190.02,312.09 191.22,314.20 192.42,316.31 193.63,318.40 194.83,320.48 196.04,322.55 197.24,324.59 198.44,326.61 199.65,328.59 200.85,330.55 202.06,332.46 203.26,334.34 204.46,336.17 205.67,337.95 206.87,339.69 208.08,341.36 209.28,342.98 210.48,344.54 211.69,346.03 212.89,347.46 214.10,348.82 215.30,350.10 216.50,351.31 217.71,352.44 218.91,353.49 220.12,354.46 221.32,355.35 222.52,356.15 223.73,356.87 224.93,357.50 226.14,358.04 227.34,358.48 228.54,358.84 229.75,359.10 230.95,359.28 232.16,359.36 233.36,359.34 234.56,359.24 235.77,359.04 236.97,358.75 238.18,358.36 239.38,357.89 240.58,357.33 241.79,356.67 242.99,355.93 244.20,355.11 245.40,354.20 246.60,353.20 247.81,352.13 249.01,350.97 250.22,349.74 251.42,348.44 252.62,347.06 253.83,345.61 255.03,344.10 256.24,342.53 257.44,340.89 258.64,339.20 259.85,337.45 261.05,335.65 262.26,333.81 263.46,331.92 264.66,329.99 265.87,328.03 267.07,326.03 268.28,324.01 269.48,321.96 270.68,319.89 271.89,317.80 273.09,315.70 274.30,313.60 275.50,311.49 276.70,309.37 277.91,307.27 279.11,305.17 280.32,303.08 281.52,301.01 282.72,298.95 283.93,296.92 285.13,294.92 286.34,292.96 287.54,291.02 288.74,289.13 289.95,287.28 291.15,285.47 292.36,283.72 293.56,282.02 294.76,280.37 295.97,278.79 297.17,277.27 298.38,275.81 299.58,274.43 300.78,273.11 301.99,271.87 303.19,270.70 304.40,269.62 305.60,268.61 306.80,267.69 308.01,266.85 309.21,266.10 310.42,265.43 311.62,264.85 312.82,264.37 314.03,263.97 315.23,263.67 316.44,263.46 317.64,263.34 318.84,263.31 320.05,263.38 321.25,263.54 322.46,263.79 323.66,264.13 324.86,264.56 326.07,265.09 327.27,265.70 328.48,266.41 329.68,267.20 330.88,268.07 332.09,269.03 333.29,270.07 334.50,271.19 335.70,272.39 336.90,273.66 338.11,275.01 339.31,276.43 340.52,277.91 341.72,279.46 342.92,281.07 344.13,282.74 345.33,284.46 346.54,286.24 347.74,288.07 348.94,289.94 350.15,291.85 351.35,293.80 352.56,295.78 353.76,297.79 354.96,299.83 356.17,301.89 357.37,303.97 358.58,306.06 359.78,308.17 360.98,310.28 362.19,312.39 363.39,314.50 364.60,316.61 365.80,318.70 367.00,320.78 368.21,322.84 369.41,324.88 370.62,326.89 371.82,328.87 373.02,330.82 374.23,332.73 375.43,334.60 376.64,336.43 377.84,338.21 379.04,339.93 380.25,341.60 381.45,343.21 382.66,344.76 383.86,346.24 385.06,347.66 386.27,349.00 387.47,350.28 388.68,351.48 389.88,352.60 391.08,353.64 392.29,354.60 393.49,355.47 394.70,356.26 395.90,356.96"/>
<rect x="155.60" y="249.10" width="240.40" height="183.10" fill="none" stroke="#949494" stroke-width="0.85"/>
<line x1="155.60" y1="370.00" x2="396.00" y2="370.00" stroke="#949494" stroke-width="0.85" />
<line x1="172.30" y1="249.10" x2="172.30" y2="250.31" stroke="#a4a4a4" stroke-width="0.85" />
<line x1="172.30" y1="370.00" x2="172.30" y2="368.79" stroke="#a4a4a4" stroke-width="0.85" />
<line x1="172.30" y1="370.00" x2="172.30" y2="370.62" stroke="#a4a4a4" stroke-width="0.85" />
<line x1="172.30" y1="432.20" x2="172.30" y2="431.58" stroke="#a4a4a4" stroke-width="0.85" />
<line x1="189.50" y1="249.10" x2="189.50" y2="251.52" stroke="#a4a4a4" stroke-width="0.85" />
<line x1="189.50" y1="370.00" x2="189.50" y2="367.58" stroke="#a4a4a4" stroke-width="0.85" />
<line x1="189.50" y1="370.00" x2="189.50" y2="371.24" stroke="#a4a4a4" stroke-width="0.85" />
<line x1="189.50" y1="432.20" x2="189.50" y2="430.96" stroke="#a4a4a4" stroke-width="0.85" />
<line x1="206.70" y1="249.10" x2="206.70" y2="250.31" stroke="#a4a4a4" stroke-width="0.85" />
<line x1="206.70" y1="370.00" x2="206.70" y2="368.79" stroke="#a4a4a4" stroke-width="0.85" />
<line x1="206.70" y1="370.00" x2="206.70" y2="370.62" stroke="#a4a4a4" stroke-width="0.85" />
<line x1="206.70" y1="432.20" x2="206.70" y2="431.58" stroke="#a4a4a4" stroke-width="0.85" />
<line x1="223.90" y1="249.10" x2="223.90" y2="250.31" stroke="#a4a4a4" stroke-width="0.85" />
<line x1="223.90" y1="370.00" x2="223.90" y2="368.79" stroke="#a4a4a4" stroke-width="0.85" />
<line x1="223.90" y1="370.00" x2="223.90" y2="370.62" stroke="#a4a4a4" stroke-width="0.85" />
<line x1="223.90" y1="432.20" x2="223.90" y2="431.58" stroke="#a4a4a4" stroke-width="0.85" />
<line x1="241.10" y1="249.10" x2="241.10" y2="250.31" stroke="#a4a4a4" stroke-width="0.85" />
<line x1="241.10" y1="370.00" x2="241.10" y2="368.79" stroke="#a4a4a4" stroke-width="0.85" />
<line x1="241.10" y1="370.00" x2="241.10" y2="370.62" stroke="#a4a4a4" stroke-width="0.85" />
<line x1="241.10" y1="432.20" x2="241.10" y2="431.58" stroke="#a4a4a4" stroke-width="0.85" />
<line x1="258.30" y1="249.10" x2="258.30" y2="250.31" stroke="#a4a4a4" stroke-width="0.85" />
<line x1="258.30" y1="370.00" x2="258.30" y2="368.79" stroke="#a4a4a4" stroke-width="0.85" />
<line x1="258.30" y1="370.00" x2="258.30" y2="370.62" stroke="#a4a4a4" stroke-width="0.85" />
<line x1="258.30" y1="432.20" x2="258.30" y2="431.58" stroke="#a4a4a4" stroke-width="0.85" />
<line x1="275.50" y1="249.10" x2="275.50" y2="251.52" stroke="#a4a4a4" stroke-width="0.85" />
<line x1="275.50" y1="370.00" x2="275.50" y2="367.58" stroke="#a4a4a4" stroke-width="0.85" />
<line x1="275.50" y1="370.00" x2="275.50" y2="371.24" stroke="#a4a4a4" stroke-width="0.85" />
<line x1="275.50" y1="432.20" x2="275.50" y2="430.96" stroke="#a4a4a4" stroke-width="0.85" />
<line x1="292.70" y1="249.10" x2="292.70" y2="250.31" stroke="#a4a4a4" stroke-width="0.85" />
<line x1="292.70" y1="370.00" x2="292.70" y2="368.79" stroke="#a4a4a4" stroke-width="0.85" />
<line x1="292.70" y1="370.00" x2="292.70" y2="370.62" stroke="#a4a4a4" stroke-width="0.85" />
<line x1="292.70" y1="432.20" x2="292.70" y2="431.58" stroke="#a4a4a4" stroke-width="0.85" />
<line x1="309.90" y1="249.10" x2="309.90" y2="250.31" stroke="#a4a4a4" stroke-width="0.85" />
<line x1="309.90" y1="370.00" x2="309.90" y2="368.79" stroke="#a4a4a4" stroke-width="0.85" />
<line x1="309.90" y1="370.00" x2="309.90" y2="370.62" stroke="#a4a4a4" stroke-width="0.85" />
<line x1="309.90" y1="432.20" x2="309.90" y2="431.58" stroke="#a4a4a4" stroke-width="0.85" />
<line x1="327.10" y1="249.10" x2="327.10" y2="250.31" stroke="#a4a4a4" stroke-width="0.85" />
<line x1="327.10" y1="370.00" x2="327.10" y2="368.79" stroke="#a4a4a4" stroke-width="0.85" />
<line x1="327.10" y1="370.00" x2="327.10" y2="370.62" stroke="#a4a4a4" stroke-width="0.85" />
<line x1="327.10" y1="432.20" x2="327.10" y2="431.58" stroke="#a4a4a4" stroke-width="0.85" />
<line x1="344.30" y1="249.10" x2="344.30" y2="250.31" stroke="#a4a4a4" stroke-width="0.85" />
<line x1="344.30" y1="370.00" x2="344.30" y2="368.79" stroke="#a4a4a4" stroke-width="0.85" />
<line x1="344.30" y1="370.00" x2="344.30" y2="370.62" stroke="#a4a4a4" stroke-width="0.85" />
<line x1="344.30" y1="432.20" x2="344.30" y2="431.58" stroke="#a4a4a4" stroke-width="0.85" />
<line x1="361.50" y1="249.10" x2="361.50" y2="251.52" stroke="#a4a4a4" stroke-width="0.85" />
<line x1="361.50" y1="370.00" x2="361.50" y2="367.58" stroke="#a4a4a4" stroke-width="0.85" />
<line x1="361.50" y1="370.00" x2="361.50" y2="371.24" stroke="#a4a4a4" stroke-width="0.85" />
<line x1="361.50" y1="432.20" x2="361.50" y2="430.96" stroke="#a4a4a4" stroke-width="0.85" />
<line x1="378.70" y1="249.10" x2="378.70" y2="250.31" stroke="#a4a4a4" stroke-width="0.85" />
<line x1="378.70" y1="370.00" x2="378.70" y2="368.79" stroke="#a4a4a4" stroke-width="0.85" />
<line x1="378.70" y1="370.00" x2="378.70" y2="370.62" stroke="#a4a4a4" stroke-width="0.85" />
<line x1="378.70" y1="432.20" x2="378.70" y2="431.58" stroke="#a4a4a4" stroke-width="0.85" />
<line x1="155.60" y1="367.80" x2="160.41" y2="367.80" stroke="#a4a4a4" stroke-width="0.85" />
<line x1="396.00" y1="367.80" x2="391.19" y2="367.80" stroke="#a4a4a4" stroke-width="0.85" />
<line x1="155.60" y1="363.96" x2="158.00" y2="363.96" stroke="#a4a4a4" stroke-width="0.85" />
<line x1="396.00" y1="363.96" x2="393.60" y2="363.96" stroke="#a4a4a4" stroke-width="0.85" />
<line x1="155.60" y1="360.13" x2="158.00" y2="360.13" stroke="#a4a4a4" stroke-width="0.85" />
<line x1="396.00" y1="360.13" x2="393.60" y2="360.13" stroke="#a4a4a4" stroke-width="0.85" />
<line x1="155.60" y1="356.30" x2="158.00" y2="356.30" stroke="#a4a4a4" stroke-width="0.85" />
<line x1="396.00" y1="356.30" x2="393.60" y2="356.30" stroke="#a4a4a4" stroke-width="0.85" />
<line x1="155.60" y1="352.46" x2="158.00" y2="352.46" stroke="#a4a4a4" stroke-width="0.85" />
<line x1="396.00" y1="352.46" x2="393.60" y2="352.46" stroke="#a4a4a4" stroke-width="0.85" />
<line x1="155.60" y1="348.63" x2="160.41" y2="348.63" stroke="#a4a4a4" stroke-width="0.85" />
<line x1="396.00" y1="348.63" x2="391.19" y2="348.63" stroke="#a4a4a4" stroke-width="0.85" />
<line x1="155.60" y1="344.80" x2="158.00" y2="344.80" stroke="#a4a4a4" stroke-width="0.85" />
<line x1="396.00" y1="344.80" x2="393.60" y2="344.80" stroke="#a4a4a4" stroke-width="0.85" />
<line x1="155.60" y1="340.96" x2="158.00" y2="340.96" stroke="#a4a4a4" stroke-width="0.85" />
<line x1="396.00" y1="340.96" x2="393.60" y2="340.96" stroke="#a4a4a4" stroke-width="0.85" />
<line x1="155.60" y1="337.13" x2="158.00" y2="337.13" stroke="#a4a4a4" stroke-width="0.85" />
<line x1="396.00" y1="337.13" x2="393.60" y2="337.13" stroke="#a4a4a4" stroke-width="0.85" />
<line x1="155.60" y1="333.30" x2="158.00" y2="333.30" stroke="#a4a4a4" stroke-width="0.85" />
<line x1="396.00" y1="333.30" x2="393.60" y2="333.30" stroke="#a4a4a4" stroke-width="0.85" />
<line x1="155.60" y1="329.47" x2="160.41" y2="329.47" stroke="#a4a4a4" stroke-width="0.85" />
<line x1="396.00" y1="329.47" x2="391.19" y2="329.47" stroke="#a4a4a4" stroke-width="0.85" />
<line x1="155.60" y1="325.63" x2="158.00" y2="325.63" stroke="#a4a4a4" stroke-width="0.85" />
<line x1="396.00" y1="325.63" x2="393.60" y2="325.63" stroke="#a4a4a4" stroke-width="0.85" />
<line x1="155.60" y1="321.80" x2="158.00" y2="321.80" stroke="#a4a4a4" stroke-width="0.85" />
<line x1="396.00" y1="321.80" x2="393.60" y2="321.80" stroke="#a4a4a4" stroke-width="0.85" />
<line x1="155.60" y1="317.97" x2="158.00" y2="317.97" stroke="#a4a4a4" stroke-width="0.85" />
<line x1="396.00" y1="317.97" x2="393.60" y2="317.97" stroke="#a4a4a4" stroke-width="0.85" />
<line x1="155.60" y1="314.13" x2="158.00" y2="314.13" stroke="#a4a4a4" stroke-width="0.85" />
<line x1="396.00" y1="314.13" x2="393.60" y2="314.13" stroke="#a4a4a4" stroke-width="0.85" />
<line x1="155.60" y1="310.30" x2="160.41" y2="310.30" stroke="#a4a4a4" stroke-width="0.85" />
<line x1="396.00" y1="310.30" x2="391.19" y2="310.30" stroke="#a4a4a4" stroke-width="0.85" />
<line x1="155.60" y1="306.47" x2="158.00" y2="306.47" stroke="#a4a4a4" stroke-width="0.85" />
<line x1="396.00" y1="306.47" x2="393.60" y2="306.47" stroke="#a4a4a4" stroke-width="0.85" />
<line x1="155.60" y1="302.63" x2="158.00" y2="302.63" stroke="#a4a4a4" stroke-width="0.85" />
<line x1="396.00" y1="302.63" x2="393.60" y2="302.63" stroke="#a4a4a4" stroke-width="0.85" />
<line x1="155.60" y1="298.80" x2="158.00" y2="298.80" stroke="#a4a4a4" stroke-width="0.85" />
<line x1="396.00" y1="298.80" x2="393.60" y2="298.80" stroke="#a4a4a4" stroke-width="0.85" />
<line x1="155.60" y1="294.97" x2="158.00" y2="294.97" stroke="#a4a4a4" stroke-width="0.85" />
<line x1="396.00" y1="294.97" x2="393.60" y2="294.97" stroke="#a4a4a4" stroke-width="0.85" />
<line x1="155.60" y1="291.13" x2="160.41" y2="291.13" stroke="#a4a4a4" stroke-width="0.85" />
<line x1="396.00" y1="291.13" x2="391.19" y2="291.13" stroke="#a4a4a4" stroke-width="0.85" />
<line x1="155.60" y1="287.30" x2="158.00" y2="287.30" stroke="#a4a4a4" stroke-width="0.85" />
<line x1="396.00" y1="287.30" x2="393.60" y2="287.30" stroke="#a4a4a4" stroke-width="0.85" />
<line x1="155.60" y1="283.47" x2="158.00" y2="283.47" stroke="#a4a4a4" stroke-width="0.85" />
<line x1="396.00" y1="283.47" x2="393.60" y2="283.47" stroke="#a4a4a4" stroke-width="0.85" />
<line x1="155.60" y1="279.64" x2="158.00" y2="279.64" stroke="#a4a4a4" stroke-width="0.85" />
<line x1="396.00" y1="279.64" x2="393.60" y2="279.64" stroke="#a4a4a4" stroke-width="0.85" />
<line x1="155.60" y1="275.80" x2="158.00" y2="275.80" stroke="#a4a4a4" stroke-width="0.85" />
<line x1="396.00" y1="275.80" x2="393.60" y2="275.80" stroke="#a4a4a4" stroke-width="0.85" />
<line x1="155.60" y1="271.97" x2="160.41" y2="271.97" stroke="#a4a4a4" stroke-width="0.85" />
<line x1="396.00" y1="271.97" x2="391.19" y2="271.97" stroke="#a4a4a4" stroke-width="0.85" />
<line x1="155.60" y1="268.14" x2="158.00" y2="268.14" stroke="#a4a4a4" stroke-width="0.85" />
<line x1="396.00" y1="268.14" x2="393.60" y2="268.14" stroke="#a4a4a4" stroke-width="0.85" />
<line x1="155.60" y1="264.30" x2="158.00" y2="264.30" stroke="#a4a4a4" stroke-width="0.85" />
<line x1="396.00" y1="264.30" x2="393.60" y2="264.30" stroke="#a4a4a4" stroke-width="0.85" />
<line x1="155.60" y1="260.47" x2="158.00" y2="260.47" stroke="#a4a4a4" stroke-width="0.85" />
<line x1="396.00" y1="260.47" x2="393.60" y2="260.47" stroke="#a4a4a4" stroke-width="0.85" />
<line x1="155.60" y1="256.64" x2="158.00" y2="256.64" stroke="#a4a4a4" stroke-width="0.85" />
<line x1="396.00" y1="256.64" x2="393.60" y2="256.64" stroke="#a4a4a4" stroke-width="0.85" />
<line x1="155.60" y1="252.81" x2="160.41" y2="252.81" stroke="#a4a4a4" stroke-width="0.85" />
<line x1="396.00" y1="252.81" x2="391.19" y2="252.81" stroke="#a4a4a4" stroke-width="0.85" />
<line x1="155.60" y1="430.65" x2="158.00" y2="430.65" stroke="#a4a4a4" stroke-width="0.85" />
<line x1="396.00" y1="430.65" x2="393.60" y2="430.65" stroke="#a4a4a4" stroke-width="0.85" />
<line x1="155.60" y1="429.09" x2="158.00" y2="429.09" stroke="#a4a4a4" stroke-width="0.85" />
<line x1="396.00" y1="429.09" x2="393.60" y2="429.09" stroke="#a4a4a4" stroke-width="0.85" />
<line x1="155.60" y1="427.54" x2="158.00" y2="427.54" stroke="#a4a4a4" stroke-width="0.85" />
<line x1="396.00" y1="427.54" x2="393.60" y2="427.54" stroke="#a4a4a4" stroke-width="0.85" />
<line x1="155.60" y1="425.98" x2="158.00" y2="425.98" stroke="#a4a4a4" stroke-width="0.85" />
<line x1="396.00" y1="425.98" x2="393.60" y2="425.98" stroke="#a4a4a4" stroke-width="0.85" />
<line x1="155.60" y1="424.43" x2="158.00" y2="424.43" stroke="#a4a4a4" stroke-width="0.85" />
<line x1="396.00" y1="424.43" x2="393.60" y2="424.43" stroke="#a4a4a4" stroke-width="0.85" />
<line x1="155.60" y1="422.87" x2="158.00" y2="422.87" stroke="#a4a4a4" stroke-width="0.85" />
<line x1="396.00" y1="422.87" x2="393.60" y2="422.87" stroke="#a4a4a4" stroke-width="0.85" />
<line x1="155.60" y1="421.31" x2="158.00" y2="421.31" stroke="#a4a4a4" stroke-width="0.85" />
<line x1="396.00" y1="421.31" x2="393.60" y2="421.31" stroke="#a4a4a4" stroke-width="0.85" />
<line x1="155.60" y1="419.76" x2="158.00" y2="419.76" stroke="#a4a4a4" stroke-width="0.85" />
<line x1="396.00" y1="419.76" x2="393.60" y2="419.76" stroke="#a4a4a4" stroke-width="0.85" />
<line x1="155.60" y1="418.21" x2="158.00" y2="418.21" stroke="#a4a4a4" stroke-width="0.85" />
<line x1="396.00" y1="418.21" x2="393.60" y2="418.21" stroke="#a4a4a4" stroke-width="0.85" />
<line x1="155.60" y1="416.65" x2="160.41" y2="416.65" stroke="#a4a4a4" stroke-width="0.85" />
<line x1="396.00" y1="416.65" x2="391.19" y2="416.65" stroke="#a4a4a4" stroke-width="0.85" />
<line x1="155.60" y1="415.10" x2="158.00" y2="415.10" stroke="#a4a4a4" stroke-width="0.85" />
<line x1="396.00" y1="415.10" x2="393.60" y2="415.10" stroke="#a4a4a4" stroke-width="0.85" />
<line x1="155.60" y1="413.54" x2="158.00" y2="413.54" stroke="#a4a4a4" stroke-width="0.85" />
<line x1="396.00" y1="413.54" x2="393.60" y2="413.54" stroke="#a4a4a4" stroke-width="0.85" />
<line x1="155.60" y1="411.99" x2="158.00" y2="411.99" stroke="#a4a4a4" stroke-width="0.85" />
<line x1="396.00" y1="411.99" x2="393.60" y2="411.99" stroke="#a4a4a4" stroke-width="0.85" />
<line x1="155.60" y1="410.43" x2="158.00" y2="410.43" stroke="#a4a4a4" stroke-width="0.85" />
<line x1="396.00" y1="410.43" x2="393.60" y2="410.43" stroke="#a4a4a4" stroke-width="0.85" />
<line x1="155.60" y1="408.88" x2="158.00" y2="408.88" stroke="#a4a4a4" stroke-width="0.85" />
<line x1="396.00" y1="408.88" x2="393.60" y2="408.88" stroke="#a4a4a4" stroke-width="0.85" />
<line x1="155.60" y1="407.32" x2="158.00" y2="407.32" stroke="#a4a4a4" stroke-width="0.85" />
<line x1="396.00" y1="407.32" x2="393.60" y2="407.32" stroke="#a4a4a4" stroke-width="0.85" />
<line x1="155.60" y1="405.77" x2="158.00" y2="405.77" stroke="#a4a4a4" stroke-width="0.85" />
<line x1="396.00" y1="405.77" x2="393.60" y2="405.77" stroke="#a4a4a4" stroke-width="0.85" />
<line x1="155.60" y1="404.21" x2="158.00" y2="404.21" stroke="#a4a4a4" stroke-width="0.85" />
<line x1="396.00" y1="404.21" x2="393.60" y2="404.21" stroke="#a4a4a4" stroke-width="0.85" />
<line x1="155.60" y1="402.66" x2="158.00" y2="402.66" stroke="#a4a4a4" stroke-width="0.85" />
<line x1="396.00" y1="402.66" x2="393.60" y2="402.66" stroke="#a4a4a4" stroke-width="0.85" />
<line x1="155.60" y1="401.10" x2="160.41" y2="401.10" stroke="#a4a4a4" stroke-width="0.85" />
<line x1="396.00" y1="401.10" x2="391.19" y2="401.10" stroke="#a4a4a4" stroke-width="0.85" />
<line x1="155.60" y1="399.55" x2="158.00" y2="399.55" stroke="#a4a4a4" stroke-width="0.85" />
<line x1="396.00" y1="399.55" x2="393.60" y2="399.55" stroke="#a4a4a4" stroke-width="0.85" />
<line x1="155.60" y1="397.99" x2="158.00" y2="397.99" stroke="#a4a4a4" stroke-width="0.85" />
<line x1="396.00" y1="397.99" x2="393.60" y2="397.99" stroke="#a4a4a4" stroke-width="0.85" />
<line x1="155.60" y1="396.44" x2="158.00" y2="396.44" stroke="#a4a4a4" stroke-width="0.85" />
<line x1="396.00" y1="396.44" x2="393.60" y2="396.44" stroke="#a4a4a4" stroke-width="0.85" />
<line x1="155.60" y1="394.88" x2="158.00" y2="394.88" stroke="#a4a4a4" stroke-width="0.85" />
<line x1="396.00" y1="394.88" x2="393.60" y2="394.88" stroke="#a4a4a4" stroke-width="0.85" />
<line x1="155.60" y1="393.33" x2="158.00" y2="393.33" stroke="#a4a4a4" stroke-width="0.85" />
<line x1="396.00" y1="393.33" x2="393.60" y2="393.33" stroke="#a4a4a4" stroke-width="0.85" />
<line x1="155.60" y1="391.77" x2="158.00" y2="391.77" stroke="#a4a4a4" stroke-width="0.85" />
<line x1="396.00" y1="391.77" x2="393.60" y2="391.77" stroke="#a4a4a4" stroke-width="0.85" />
<line x1="155.60" y1="390.22" x2="158.00" y2="390.22" stroke="#a4a4a4" stroke-width="0.85" />
<line x1="396.00" y1="390.22" x2="393.60" y2="390.22" stroke="#a4a4a4" stroke-width="0.85" />
<line x1="155.60" y1="388.66" x2="158.00" y2="388.66" stroke="#a4a4a4" stroke-width="0.85" />
<line x1="396.00" y1="388.66" x2="393.60" y2="388.66" stroke="#a4a4a4" stroke-width="0.85" />
<line x1="155.60" y1="387.11" x2="158.00" y2="387.11" stroke="#a4a4a4" stroke-width="0.85" />
<line x1="396.00" y1="387.11" x2="393.60" y2="387.11" stroke="#a4a4a4" stroke-width="0.85" />
<line x1="155.60" y1="385.55" x2="160.41" y2="385.55" stroke="#a4a4a4" stroke-width="0.85" />
<line x1="396.00" y1="385.55" x2="391.19" y2="385.55" stroke="#a4a4a4" stroke-width="0.85" />
<line x1="155.60" y1="384.00" x2="158.00" y2="384.00" stroke="#a4a4a4" stroke-width="0.85" />
<line x1="396.00" y1="384.00" x2="393.60" y2="384.00" stroke="#a4a4a4" stroke-width="0.85" />
<line x1="155.60" y1="382.44" x2="158.00" y2="382.44" stroke="#a4a4a4" stroke-width="0.85" />
<line x1="396.00" y1="382.44" x2="393.60" y2="382.44" stroke="#a4a4a4" stroke-width="0.85" />
<line x1="155.60" y1="380.89" x2="158.00" y2="380.89" stroke="#a4a4a4" stroke-width="0.85" />
<line x1="396.00" y1="380.89" x2="393.60" y2="380.89" stroke="#a4a4a4" stroke-width="0.85" />
<line x1="155.60" y1="379.33" x2="158.00" y2="379.33" stroke="#a4a4a4" stroke-width="0.85" />
<line x1="396.00" y1="379.33" x2="393.60" y2="379.33" stroke="#a4a4a4" stroke-width="0.85" />
<line x1="155.60" y1="377.78" x2="158.00" y2="377.78" stroke="#a4a4a4" stroke-width="0.85" />
<line x1="396.00" y1="377.78" x2="393.60" y2="377.78" stroke="#a4a4a4" stroke-width="0.85" />
<line x1="155.60" y1="376.22" x2="158.00" y2="376.22" stroke="#a4a4a4" stroke-width="0.85" />
<line x1="396.00" y1="376.22" x2="393.60" y2="376.22" stroke="#a4a4a4" stroke-width="0.85" />
<line x1="155.60" y1="374.67" x2="158.00" y2="374.67" stroke="#a4a4a4" stroke-width="0.85" />
<line x1="396.00" y1="374.67" x2="393.60" y2="374.67" stroke="#a4a4a4" stroke-width="0.85" />
<line x1="155.60" y1="373.11" x2="158.00" y2="373.11" stroke="#a4a4a4" stroke-width="0.85" />
<line x1="396.00" y1="373.11" x2="393.60" y2="373.11" stroke="#a4a4a4" stroke-width="0.85" />
<line x1="155.60" y1="371.56" x2="158.00" y2="371.56" stroke="#a4a4a4" stroke-width="0.85" />
<line x1="396.00" y1="371.56" x2="393.60" y2="371.56" stroke="#a4a4a4" stroke-width="0.85" />
<line x1="155.60" y1="401.50" x2="396.00" y2="401.50" stroke="#777" stroke-width="0.65" stroke-dasharray="2.5 2.18" stroke-dashoffset="-1.0"/>
<text transform="translate(153.70,255.56) scale(0.9,1)" text-anchor="end" font-size="8.4">150</text>
<text transform="translate(153.70,274.72) scale(0.9,1)" text-anchor="end" font-size="8.4">100</text>
<text transform="translate(153.70,293.88) scale(0.9,1)" text-anchor="end" font-size="8.4">50</text>
<text transform="translate(153.70,313.05) scale(0.9,1)" text-anchor="end" font-size="8.4">0</text>
<text transform="translate(153.70,332.22) scale(0.9,1)" text-anchor="end" font-size="8.4">-50</text>
<text transform="translate(153.70,351.38) scale(0.9,1)" text-anchor="end" font-size="8.4">-100</text>
<text transform="translate(153.70,431.95) scale(0.9,1)" text-anchor="end" font-size="8.4">-20</text>
<text transform="translate(153.70,419.40) scale(0.9,1)" text-anchor="end" font-size="8.4">-10</text>
<text transform="translate(153.70,403.85) scale(0.9,1)" text-anchor="end" font-size="8.4">0</text>
<text transform="translate(153.70,388.30) scale(0.9,1)" text-anchor="end" font-size="8.4">10</text>
<text transform="translate(153.70,375.35) scale(0.9,1)" text-anchor="end" font-size="8.4">20</text>
<text transform="translate(189.50,441.90) scale(0.9,1)" text-anchor="middle" font-size="8.4">0.0</text>
<text transform="translate(275.50,441.90) scale(0.9,1)" text-anchor="middle" font-size="8.4">0.5</text>
<text transform="translate(361.50,441.90) scale(0.9,1)" text-anchor="middle" font-size="8.4">1.0</text>
<text transform="translate(275.80,450.75) scale(0.9,1)" text-anchor="middle" font-size="8.4">Orbital Phase</text>
<text transform="translate(275.40,245.40) scale(0.912,1)" text-anchor="middle" font-size="10.1">KIC9851944</text>
<text transform="translate(133.30,309.85) rotate(-90) scale(0.925,1)" text-anchor="middle" font-size="8.1">Radial Velocity (km s<tspan font-size="3.8" dy="-3.6">-1</tspan><tspan dy="3.6">)</tspan></text>
<text transform="translate(137.40,401.10) rotate(-90) scale(0.925,1)" text-anchor="middle" font-size="8.1">O-C (km s<tspan font-size="3.8" dy="-3.6">-1</tspan><tspan dy="3.6">)</tspan></text>
<line x1="158.00" y1="394.50" x2="158.00" y2="401.10" stroke="#999" stroke-width="0.6" />
<line x1="162.00" y1="407.20" x2="162.00" y2="413.80" stroke="#999" stroke-width="0.6" />
<line x1="230.30" y1="402.20" x2="230.30" y2="408.80" stroke="#999" stroke-width="0.6" />
<line x1="233.80" y1="394.90" x2="233.80" y2="401.50" stroke="#999" stroke-width="0.6" />
<line x1="238.50" y1="393.20" x2="238.50" y2="399.80" stroke="#999" stroke-width="0.6" />
<line x1="241.30" y1="396.70" x2="241.30" y2="403.30" stroke="#999" stroke-width="0.6" />
<line x1="244.20" y1="397.70" x2="244.20" y2="404.30" stroke="#999" stroke-width="0.6" />
<line x1="247.70" y1="402.50" x2="247.70" y2="409.10" stroke="#999" stroke-width="0.6" />
<line x1="316.00" y1="378.30" x2="316.00" y2="384.90" stroke="#999" stroke-width="0.6" />
<line x1="317.80" y1="409.60" x2="317.80" y2="416.20" stroke="#999" stroke-width="0.6" />
<line x1="323.00" y1="398.50" x2="323.00" y2="405.10" stroke="#999" stroke-width="0.6" />
<line x1="326.00" y1="397.30" x2="326.00" y2="403.90" stroke="#999" stroke-width="0.6" />
<line x1="329.80" y1="394.50" x2="329.80" y2="401.10" stroke="#999" stroke-width="0.6" />
<line x1="333.80" y1="407.20" x2="333.80" y2="413.80" stroke="#999" stroke-width="0.6" />
<line x1="158.00" y1="392.70" x2="158.00" y2="398.30" stroke="#c4c4c4" stroke-width="0.6" />
<line x1="162.00" y1="402.20" x2="162.00" y2="407.80" stroke="#c4c4c4" stroke-width="0.6" />
<line x1="241.50" y1="400.00" x2="241.50" y2="405.60" stroke="#c4c4c4" stroke-width="0.6" />
<line x1="244.20" y1="402.20" x2="244.20" y2="407.80" stroke="#c4c4c4" stroke-width="0.6" />
<line x1="247.70" y1="398.70" x2="247.70" y2="404.30" stroke="#c4c4c4" stroke-width="0.6" />
<line x1="317.80" y1="415.80" x2="317.80" y2="421.40" stroke="#c4c4c4" stroke-width="0.6" />
<line x1="323.00" y1="400.80" x2="323.00" y2="406.40" stroke="#c4c4c4" stroke-width="0.6" />
<line x1="326.00" y1="392.40" x2="326.00" y2="398.00" stroke="#c4c4c4" stroke-width="0.6" />
<line x1="329.80" y1="397.80" x2="329.80" y2="403.40" stroke="#c4c4c4" stroke-width="0.6" />
<line x1="333.80" y1="402.30" x2="333.80" y2="407.90" stroke="#c4c4c4" stroke-width="0.6" />
<circle cx="158.0" cy="350.5" r="1.35" fill="none" stroke="#8f8f8f" stroke-width="0.5"/>
<circle cx="162.3" cy="349.5" r="1.35" fill="none" stroke="#8f8f8f" stroke-width="0.5"/>
<circle cx="230.4" cy="267.1" r="1.35" fill="none" stroke="#8f8f8f" stroke-width="0.5"/>
<circle cx="233.9" cy="264.9" r="1.35" fill="none" stroke="#8f8f8f" stroke-width="0.5"/>
<circle cx="238.7" cy="265.8" r="1.35" fill="none" stroke="#8f8f8f" stroke-width="0.5"/>
<circle cx="241.2" cy="269.3" r="1.35" fill="none" stroke="#8f8f8f" stroke-width="0.5"/>
<circle cx="243.8" cy="271.1" r="1.35" fill="none" stroke="#8f8f8f" stroke-width="0.5"/>
<circle cx="247.4" cy="272.6" r="1.35" fill="none" stroke="#8f8f8f" stroke-width="0.5"/>
<circle cx="315.9" cy="349.9" r="1.35" fill="none" stroke="#8f8f8f" stroke-width="0.5"/>
<circle cx="317.9" cy="359.5" r="1.35" fill="none" stroke="#8f8f8f" stroke-width="0.5"/>
<circle cx="323.1" cy="355.2" r="1.35" fill="none" stroke="#8f8f8f" stroke-width="0.5"/>
<circle cx="325.6" cy="351.8" r="1.35" fill="none" stroke="#8f8f8f" stroke-width="0.5"/>
<circle cx="329.3" cy="350.5" r="1.35" fill="none" stroke="#8f8f8f" stroke-width="0.5"/>
<circle cx="333.7" cy="349.5" r="1.35" fill="none" stroke="#8f8f8f" stroke-width="0.5"/>
<circle cx="158.0" cy="395.5" r="1.35" fill="#fff" fill-opacity="0.75" stroke="#8f8f8f" stroke-width="0.5"/>
<circle cx="162.0" cy="405.0" r="1.35" fill="#fff" fill-opacity="0.75" stroke="#8f8f8f" stroke-width="0.5"/>
<circle cx="241.5" cy="402.8" r="1.35" fill="#fff" fill-opacity="0.75" stroke="#8f8f8f" stroke-width="0.5"/>
<circle cx="244.2" cy="405.0" r="1.35" fill="#fff" fill-opacity="0.75" stroke="#8f8f8f" stroke-width="0.5"/>
<circle cx="247.7" cy="401.5" r="1.35" fill="#fff" fill-opacity="0.75" stroke="#8f8f8f" stroke-width="0.5"/>
<circle cx="317.8" cy="418.6" r="1.35" fill="#fff" fill-opacity="0.75" stroke="#8f8f8f" stroke-width="0.5"/>
<circle cx="323.0" cy="403.6" r="1.35" fill="#fff" fill-opacity="0.75" stroke="#8f8f8f" stroke-width="0.5"/>
<circle cx="326.0" cy="395.2" r="1.35" fill="#fff" fill-opacity="0.75" stroke="#8f8f8f" stroke-width="0.5"/>
<circle cx="329.8" cy="400.6" r="1.35" fill="#fff" fill-opacity="0.75" stroke="#8f8f8f" stroke-width="0.5"/>
<circle cx="333.8" cy="405.1" r="1.35" fill="#fff" fill-opacity="0.75" stroke="#8f8f8f" stroke-width="0.5"/>
<circle cx="158.0" cy="266.8" r="1.42" fill="#000"/>
<circle cx="162.0" cy="273.3" r="1.42" fill="#000"/>
<circle cx="230.4" cy="359.9" r="1.42" fill="#000"/>
<circle cx="233.9" cy="358.2" r="1.42" fill="#000"/>
<circle cx="238.5" cy="356.7" r="1.42" fill="#000"/>
<circle cx="241.2" cy="356.4" r="1.42" fill="#000"/>
<circle cx="244.1" cy="354.9" r="1.42" fill="#000"/>
<circle cx="247.6" cy="353.1" r="1.42" fill="#000"/>
<circle cx="315.9" cy="259.3" r="1.42" fill="#000"/>
<circle cx="317.9" cy="266.8" r="1.42" fill="#000"/>
<circle cx="323.1" cy="264.5" r="1.42" fill="#000"/>
<circle cx="325.8" cy="265.5" r="1.42" fill="#000"/>
<circle cx="329.6" cy="266.8" r="1.42" fill="#000"/>
<circle cx="333.7" cy="273.3" r="1.42" fill="#000"/>
<circle cx="158.0" cy="397.8" r="1.42" fill="#000"/>
<circle cx="162.0" cy="410.5" r="1.42" fill="#000"/>
<circle cx="230.3" cy="405.5" r="1.42" fill="#000"/>
<circle cx="233.8" cy="398.2" r="1.42" fill="#000"/>
<circle cx="238.5" cy="396.5" r="1.42" fill="#000"/>
<circle cx="241.3" cy="400.0" r="1.42" fill="#000"/>
<circle cx="244.2" cy="401.0" r="1.42" fill="#000"/>
<circle cx="247.7" cy="405.8" r="1.42" fill="#000"/>
<circle cx="316.0" cy="381.6" r="1.42" fill="#000"/>
<circle cx="317.8" cy="412.9" r="1.42" fill="#000"/>
<circle cx="323.0" cy="401.8" r="1.42" fill="#000"/>
<circle cx="326.0" cy="400.6" r="1.42" fill="#000"/>
<circle cx="329.8" cy="397.8" r="1.42" fill="#000"/>
<circle cx="333.8" cy="410.5" r="1.42" fill="#000"/>
</svg>
</body></html>
